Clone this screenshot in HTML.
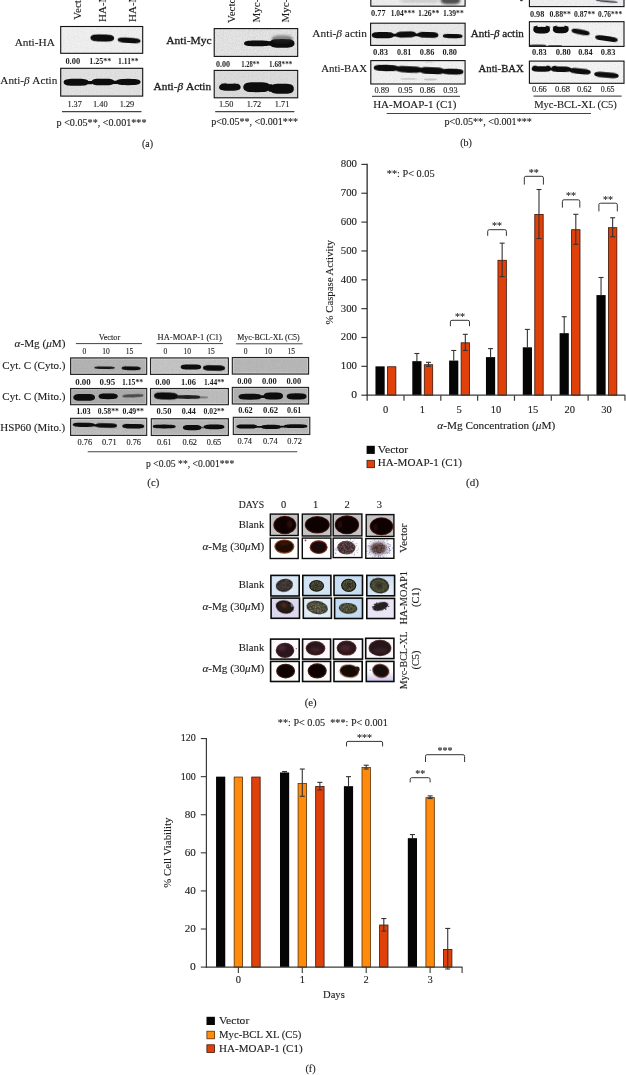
<!DOCTYPE html>
<html lang="en"><head><meta charset="utf-8"><title>Figure</title>
<style>
html,body{margin:0;padding:0;background:#fff;}
body{width:626px;height:1075px;overflow:hidden;}
svg{display:block;font-family:'Liberation Serif', 'DejaVu Serif', serif;}
text{white-space:pre;}
</style></head><body>
<svg width="626" height="1075" viewBox="0 0 626 1075">
<defs>
<filter id="bl" x="-20%" y="-60%" width="140%" height="220%"><feGaussianBlur stdDeviation="0.75"/></filter>
<filter id="bls" x="-20%" y="-80%" width="140%" height="260%"><feGaussianBlur stdDeviation="0.6"/></filter>
<filter id="bl2" x="-20%" y="-80%" width="140%" height="260%"><feGaussianBlur stdDeviation="1.3"/></filter>
<filter id="bl3" x="-30%" y="-100%" width="160%" height="300%"><feGaussianBlur stdDeviation="2.2"/></filter>
<filter id="nz" x="0" y="0" width="100%" height="100%"><feTurbulence type="fractalNoise" baseFrequency="0.85" numOctaves="2" seed="3" result="t"/><feColorMatrix type="matrix" values="0 0 0 0 0  0 0 0 0 0  0 0 0 0 0  0.9 0.5 0 0 -0.52"/></filter>
<filter id="nzw" x="0" y="0" width="100%" height="100%"><feTurbulence type="fractalNoise" baseFrequency="0.7" numOctaves="2" seed="11" result="t"/><feColorMatrix type="matrix" values="0 0 0 0 1  0 0 0 0 1  0 0 0 0 1  0.9 0.5 0 0 -0.55"/></filter>
<filter id="tx" x="-5%" y="-5%" width="110%" height="110%"><feTurbulence type="fractalNoise" baseFrequency="0.75" numOctaves="2" seed="5" result="n"/><feColorMatrix in="n" type="matrix" values="0 0 0 0 0  0 0 0 0 0  0 0 0 0 0  1.6 0 0 0 -0.55" result="a"/><feComposite in="a" in2="SourceGraphic" operator="in"/></filter>
<filter id="txw" x="-5%" y="-5%" width="110%" height="110%"><feTurbulence type="fractalNoise" baseFrequency="0.8" numOctaves="2" seed="9" result="n"/><feColorMatrix in="n" type="matrix" values="0 0 0 0 0.85  0 0 0 0 0.8  0 0 0 0 0.7  1.6 0 0 0 -0.62" result="a"/><feComposite in="a" in2="SourceGraphic" operator="in"/></filter>
<filter id="cb" x="-20%" y="-20%" width="140%" height="140%"><feGaussianBlur stdDeviation="0.6"/></filter>
<filter id="cb2" x="-30%" y="-30%" width="160%" height="160%"><feGaussianBlur stdDeviation="1.4"/></filter>
<clipPath id="c1"><rect x="60.70" y="26.50" width="82.00" height="26.80"/></clipPath>
<clipPath id="c2"><rect x="60.70" y="68.30" width="82.00" height="27.80"/></clipPath>
<clipPath id="c3"><rect x="214.20" y="28.60" width="83.50" height="27.80"/></clipPath>
<clipPath id="c4"><rect x="214.20" y="70.40" width="83.50" height="27.40"/></clipPath>
<clipPath id="c5"><rect x="370.80" y="-10.00" width="94.30" height="16.20"/></clipPath>
<clipPath id="c6"><rect x="370.60" y="23.20" width="94.50" height="22.20"/></clipPath>
<clipPath id="c7"><rect x="370.80" y="60.60" width="94.30" height="23.40"/></clipPath>
<clipPath id="c8"><rect x="529.40" y="-10.00" width="94.60" height="16.60"/></clipPath>
<clipPath id="c9"><rect x="529.40" y="21.70" width="94.60" height="24.70"/></clipPath>
<clipPath id="c10"><rect x="529.40" y="61.10" width="94.60" height="22.20"/></clipPath>
<clipPath id="c11"><rect x="70.60" y="357.90" width="76.10" height="16.50"/></clipPath>
<clipPath id="c12"><rect x="70.60" y="388.50" width="76.10" height="16.20"/></clipPath>
<clipPath id="c13"><rect x="70.60" y="418.30" width="76.10" height="17.10"/></clipPath>
<clipPath id="c14"><rect x="150.50" y="357.90" width="77.90" height="16.50"/></clipPath>
<clipPath id="c15"><rect x="150.50" y="388.50" width="77.90" height="16.20"/></clipPath>
<clipPath id="c16"><rect x="151.30" y="418.70" width="77.10" height="16.80"/></clipPath>
<clipPath id="c17"><rect x="232.30" y="357.50" width="76.30" height="16.60"/></clipPath>
<clipPath id="c18"><rect x="232.30" y="387.40" width="76.30" height="16.60"/></clipPath>
<clipPath id="c19"><rect x="233.30" y="417.30" width="76.50" height="17.20"/></clipPath>
<clipPath id="c20"><rect x="270.30" y="514.10" width="27.90" height="21.40"/></clipPath>
<clipPath id="c21"><rect x="302.30" y="514.10" width="28.60" height="21.90"/></clipPath>
<clipPath id="c22"><rect x="333.20" y="514.00" width="28.70" height="21.90"/></clipPath>
<clipPath id="c23"><rect x="366.20" y="514.60" width="27.70" height="21.80"/></clipPath>
<clipPath id="c24"><rect x="270.20" y="538.10" width="28.00" height="20.40"/></clipPath>
<clipPath id="c25"><rect x="302.30" y="538.10" width="28.60" height="20.40"/></clipPath>
<clipPath id="c26"><rect x="333.20" y="538.10" width="28.70" height="19.50"/></clipPath>
<clipPath id="c27"><rect x="365.80" y="538.60" width="28.10" height="19.70"/></clipPath>
<radialGradient id="g28" cx="50%" cy="50%" r="70%"><stop offset="0" stop-color="#e9f0fa"/><stop offset="1" stop-color="#d3e2f4"/></radialGradient>
<clipPath id="c29"><rect x="270.90" y="575.40" width="28.30" height="20.60"/></clipPath>
<radialGradient id="g30" cx="50%" cy="50%" r="70%"><stop offset="0" stop-color="#e0ebf8"/><stop offset="1" stop-color="#cadef2"/></radialGradient>
<clipPath id="c31"><rect x="302.80" y="575.40" width="28.10" height="20.20"/></clipPath>
<radialGradient id="g32" cx="50%" cy="50%" r="70%"><stop offset="0" stop-color="#d5e6f6"/><stop offset="1" stop-color="#c0d9f0"/></radialGradient>
<clipPath id="c33"><rect x="334.00" y="575.40" width="28.50" height="20.00"/></clipPath>
<radialGradient id="g34" cx="70%" cy="80%" r="90%"><stop offset="0" stop-color="#eaf1fa"/><stop offset="1" stop-color="#c6dbf1"/></radialGradient>
<clipPath id="c35"><rect x="366.80" y="575.40" width="27.80" height="20.40"/></clipPath>
<clipPath id="c36"><rect x="271.10" y="598.10" width="28.40" height="20.20"/></clipPath>
<radialGradient id="g37" cx="50%" cy="50%" r="70%"><stop offset="0" stop-color="#eef4fb"/><stop offset="1" stop-color="#dce8f4"/></radialGradient>
<clipPath id="c38"><rect x="303.30" y="598.10" width="28.10" height="20.20"/></clipPath>
<radialGradient id="g39" cx="50%" cy="50%" r="70%"><stop offset="0" stop-color="#d2e4f6"/><stop offset="1" stop-color="#bdd6ef"/></radialGradient>
<clipPath id="c40"><rect x="334.60" y="598.10" width="27.90" height="20.40"/></clipPath>
<clipPath id="c41"><rect x="366.80" y="598.40" width="27.80" height="20.10"/></clipPath>
<clipPath id="c42"><rect x="270.60" y="639.10" width="28.60" height="20.00"/></clipPath>
<clipPath id="c43"><rect x="302.60" y="639.10" width="28.00" height="20.00"/></clipPath>
<clipPath id="c44"><rect x="333.50" y="639.10" width="29.00" height="20.00"/></clipPath>
<clipPath id="c45"><rect x="365.70" y="638.30" width="28.20" height="20.30"/></clipPath>
<clipPath id="c46"><rect x="270.60" y="661.40" width="28.60" height="20.10"/></clipPath>
<clipPath id="c47"><rect x="302.60" y="661.40" width="28.00" height="20.10"/></clipPath>
<clipPath id="c48"><rect x="334.00" y="661.40" width="28.20" height="20.10"/></clipPath>
<linearGradient id="g49" x1="0" y1="0" x2="0" y2="1"><stop offset="0.5" stop-color="#fefefe"/><stop offset="1" stop-color="#c9c1e8"/></linearGradient>
<clipPath id="c50"><rect x="366.30" y="661.40" width="27.60" height="20.10"/></clipPath>
</defs>
<rect width="626" height="1075" fill="#ffffff"/>
<g opacity="0.999">
<text transform="translate(80.50,19.70) rotate(-90)" font-size="11" text-anchor="start" fill="#1c1c1c" stroke="#1c1c1c" stroke-width="0.12">Vector</text>
<text transform="translate(106.40,22.00) rotate(-90)" font-size="11" text-anchor="start" fill="#1c1c1c" stroke="#1c1c1c" stroke-width="0.12">HA-MOAP-1 (C1)</text>
<text transform="translate(136.00,22.00) rotate(-90)" font-size="11" text-anchor="start" fill="#1c1c1c" stroke="#1c1c1c" stroke-width="0.12">HA-MOAP-1 (C2)</text>
<rect x="60.70" y="26.50" width="82.00" height="26.80" fill="#f1f1f1"/>
<g clip-path="url(#c1)">

<rect x="60.70" y="26.50" width="82.00" height="26.80" filter="url(#nz)" opacity="0.1"/>
<polygon points="114.13,38.00 114.06,38.69 113.84,39.25 113.47,39.74 112.94,40.18 112.25,40.56 111.37,40.88 110.27,41.13 108.88,41.32 106.98,41.43 102.30,41.47 97.62,41.43 95.72,41.32 94.33,41.13 93.23,40.88 92.35,40.56 91.66,40.18 91.13,39.74 90.76,39.25 90.54,38.69 90.47,38.00 90.54,37.31 90.76,36.75 91.13,36.26 91.66,35.82 92.35,35.44 93.23,35.12 94.33,34.87 95.72,34.68 97.62,34.57 102.30,34.53 106.98,34.57 108.88,34.68 110.27,34.87 111.37,35.12 112.25,35.44 112.94,35.82 113.47,36.26 113.84,36.75 114.06,37.31" fill="#0a0a0a" filter="url(#bl)" transform="rotate(1.23 102.30 38.00)"/>
<polygon points="140.52,40.40 140.45,40.92 140.24,41.35 139.88,41.72 139.38,42.05 138.71,42.34 137.86,42.58 136.80,42.77 135.45,42.91 133.62,43.00 129.10,43.02 124.58,43.00 122.75,42.91 121.40,42.77 120.34,42.58 119.49,42.34 118.82,42.05 118.32,41.72 117.96,41.35 117.75,40.92 117.68,40.40 117.75,39.88 117.96,39.45 118.32,39.08 118.82,38.75 119.49,38.46 120.34,38.22 121.40,38.03 122.75,37.89 124.58,37.80 129.10,37.77 133.62,37.80 135.45,37.89 136.80,38.03 137.86,38.22 138.71,38.46 139.38,38.75 139.88,39.08 140.24,39.45 140.45,39.88" fill="#0a0a0a" filter="url(#bl)" transform="rotate(3.58 129.10 40.40)"/>
</g>
<rect x="60.70" y="26.50" width="82.00" height="26.80" fill="none" stroke="#111" stroke-width="1.1"/>
<text x="14.65" y="45.80" font-size="11" text-anchor="start" fill="#1c1c1c" stroke="#1c1c1c" stroke-width="0.12" textLength="40.20" lengthAdjust="spacingAndGlyphs">Anti-HA</text>
<text x="65.40" y="63.50" font-size="7.6" text-anchor="start" fill="#1c1c1c" font-weight="bold" textLength="14.80" lengthAdjust="spacingAndGlyphs">0.00</text>
<text x="89.30" y="63.50" font-size="7.6" text-anchor="start" fill="#1c1c1c" font-weight="bold" textLength="22.00" lengthAdjust="spacingAndGlyphs">1.25**</text>
<text x="118.10" y="63.50" font-size="7.6" text-anchor="start" fill="#1c1c1c" font-weight="bold" textLength="20.40" lengthAdjust="spacingAndGlyphs">1.11**</text>
<rect x="60.70" y="68.30" width="82.00" height="27.80" fill="#e3e3e3"/>
<g clip-path="url(#c2)">

<rect x="60.70" y="68.30" width="82.00" height="27.80" filter="url(#nz)" opacity="0.1"/>
<polygon points="88.65,82.30 88.57,82.99 88.34,83.55 87.94,84.04 87.39,84.48 86.66,84.86 85.73,85.18 84.57,85.43 83.10,85.62 81.09,85.73 76.15,85.77 71.21,85.73 69.20,85.62 67.73,85.43 66.57,85.18 65.64,84.86 64.91,84.48 64.36,84.04 63.96,83.55 63.73,82.99 63.66,82.30 63.73,81.61 63.96,81.05 64.36,80.56 64.91,80.12 65.64,79.74 66.57,79.42 67.73,79.17 69.20,78.98 71.21,78.87 76.15,78.83 81.09,78.87 83.10,78.98 84.57,79.17 85.73,79.42 86.66,79.74 87.39,80.12 87.94,80.56 88.34,81.05 88.57,81.61" fill="#0a0a0a" filter="url(#bl)" transform="rotate(0.00 76.15 82.30)"/>
<polygon points="94.08,82.60 94.05,82.91 93.98,83.17 93.85,83.39 93.67,83.59 93.43,83.77 93.13,83.91 92.75,84.02 92.27,84.11 91.61,84.16 90.00,84.17 88.39,84.16 87.73,84.11 87.25,84.02 86.87,83.91 86.57,83.77 86.33,83.59 86.15,83.39 86.02,83.17 85.95,82.91 85.92,82.60 85.95,82.29 86.02,82.03 86.15,81.81 86.33,81.61 86.57,81.43 86.87,81.29 87.25,81.18 87.73,81.09 88.39,81.04 90.00,81.02 91.61,81.04 92.27,81.09 92.75,81.18 93.13,81.29 93.43,81.43 93.67,81.61 93.85,81.81 93.98,82.03 94.05,82.29" fill="#0a0a0a" filter="url(#bls)" transform="rotate(0.00 90.00 82.60)"/>
<polygon points="114.12,82.00 114.05,82.67 113.84,83.21 113.49,83.69 112.99,84.12 112.33,84.49 111.49,84.79 110.44,85.04 109.12,85.22 107.31,85.32 102.85,85.36 98.39,85.32 96.58,85.22 95.26,85.04 94.21,84.79 93.37,84.49 92.71,84.12 92.21,83.69 91.86,83.21 91.65,82.67 91.58,82.00 91.65,81.33 91.86,80.79 92.21,80.31 92.71,79.88 93.37,79.51 94.21,79.21 95.26,78.96 96.58,78.78 98.39,78.68 102.85,78.64 107.31,78.68 109.12,78.78 110.44,78.96 111.49,79.21 112.33,79.51 112.99,79.88 113.49,80.31 113.84,80.79 114.05,81.33" fill="#0a0a0a" filter="url(#bl)" transform="rotate(0.00 102.85 82.00)"/>
<polygon points="118.06,82.40 118.04,82.73 117.98,83.01 117.89,83.25 117.75,83.46 117.57,83.64 117.35,83.80 117.06,83.92 116.70,84.01 116.21,84.06 115.00,84.08 113.79,84.06 113.30,84.01 112.94,83.92 112.65,83.80 112.43,83.64 112.25,83.46 112.11,83.25 112.02,83.01 111.96,82.73 111.94,82.40 111.96,82.07 112.02,81.79 112.11,81.55 112.25,81.34 112.43,81.16 112.65,81.00 112.94,80.88 113.30,80.79 113.79,80.74 115.00,80.72 116.21,80.74 116.70,80.79 117.06,80.88 117.35,81.00 117.57,81.16 117.75,81.34 117.89,81.55 117.98,81.79 118.04,82.07" fill="#0a0a0a" filter="url(#bls)" transform="rotate(0.00 115.00 82.40)"/>
<polygon points="140.44,82.00 140.36,82.63 140.14,83.13 139.76,83.59 139.21,83.98 138.50,84.33 137.59,84.62 136.46,84.85 135.03,85.02 133.07,85.12 128.25,85.15 123.43,85.12 121.47,85.02 120.04,84.85 118.91,84.62 118.00,84.33 117.29,83.98 116.74,83.59 116.36,83.13 116.14,82.63 116.06,82.00 116.14,81.37 116.36,80.87 116.74,80.41 117.29,80.02 118.00,79.67 118.91,79.38 120.04,79.15 121.47,78.98 123.43,78.88 128.25,78.85 133.07,78.88 135.03,78.98 136.46,79.15 137.59,79.38 138.50,79.67 139.21,80.02 139.76,80.41 140.14,80.87 140.36,81.37" fill="#0a0a0a" filter="url(#bl)" transform="rotate(0.00 128.25 82.00)"/>
</g>
<rect x="60.70" y="68.30" width="82.00" height="27.80" fill="none" stroke="#111" stroke-width="1.1"/>
<text x="0.35" y="83.80" font-size="11" text-anchor="start" fill="#1c1c1c" stroke="#1c1c1c" stroke-width="0.12" textLength="56.90" lengthAdjust="spacingAndGlyphs">Anti-<tspan font-style="italic">β</tspan> Actin</text>
<text x="67.40" y="106.80" font-size="7.6" text-anchor="start" fill="#1c1c1c" stroke="#1c1c1c" stroke-width="0.12" textLength="14.50" lengthAdjust="spacingAndGlyphs">1.37</text>
<text x="92.90" y="106.80" font-size="7.6" text-anchor="start" fill="#1c1c1c" stroke="#1c1c1c" stroke-width="0.12" textLength="14.70" lengthAdjust="spacingAndGlyphs">1.40</text>
<text x="119.70" y="106.80" font-size="7.6" text-anchor="start" fill="#1c1c1c" stroke="#1c1c1c" stroke-width="0.12" textLength="14.50" lengthAdjust="spacingAndGlyphs">1.29</text>
<line x1="62.00" y1="111.70" x2="141.50" y2="111.70" stroke="#444" stroke-width="1.2"/>
<text x="56.55" y="126.20" font-size="10.5" text-anchor="start" fill="#1c1c1c" stroke="#1c1c1c" stroke-width="0.12" textLength="89.90" lengthAdjust="spacingAndGlyphs">p &lt;0.05**, &lt;0.001***</text>
<text x="147.50" y="146.60" font-size="10" text-anchor="middle" fill="#1c1c1c" stroke="#1c1c1c" stroke-width="0.12">(a)</text>
<text transform="translate(235.30,23.00) rotate(-90)" font-size="11" text-anchor="start" fill="#1c1c1c" stroke="#1c1c1c" stroke-width="0.12">Vector</text>
<text transform="translate(260.40,22.50) rotate(-90)" font-size="11" text-anchor="start" fill="#1c1c1c" stroke="#1c1c1c" stroke-width="0.12">Myc-BCL-XL (C1)</text>
<text transform="translate(288.60,22.50) rotate(-90)" font-size="11" text-anchor="start" fill="#1c1c1c" stroke="#1c1c1c" stroke-width="0.12">Myc-BCL-XL (C5)</text>
<rect x="214.20" y="28.60" width="83.50" height="27.80" fill="#e7e7e7"/>
<g clip-path="url(#c3)">

<rect x="214.20" y="28.60" width="83.50" height="27.80" filter="url(#nz)" opacity="0.16"/>
<polygon points="270.86,43.40 270.78,43.96 270.53,44.42 270.11,44.83 269.51,45.19 268.73,45.50 267.73,45.76 266.49,45.96 264.91,46.11 262.76,46.20 257.45,46.23 252.14,46.20 249.99,46.11 248.41,45.96 247.17,45.76 246.17,45.50 245.39,45.19 244.79,44.83 244.37,44.42 244.12,43.96 244.04,43.40 244.12,42.84 244.37,42.38 244.79,41.97 245.39,41.61 246.17,41.30 247.17,41.04 248.41,40.84 249.99,40.69 252.14,40.60 257.45,40.56 262.76,40.60 264.91,40.69 266.49,40.84 267.73,41.04 268.73,41.30 269.51,41.61 270.11,41.97 270.53,42.38 270.78,42.84" fill="#0a0a0a" filter="url(#bl)" transform="rotate(0.00 257.45 43.40)"/>
<polygon points="273.05,43.40 273.03,43.82 272.99,44.16 272.91,44.46 272.79,44.72 272.64,44.95 272.46,45.15 272.22,45.30 271.92,45.41 271.51,45.48 270.50,45.50 269.49,45.48 269.08,45.41 268.78,45.30 268.54,45.15 268.36,44.95 268.21,44.72 268.09,44.46 268.01,44.16 267.97,43.82 267.95,43.40 267.97,42.98 268.01,42.64 268.09,42.34 268.21,42.08 268.36,41.85 268.54,41.65 268.78,41.50 269.08,41.39 269.49,41.32 270.50,41.30 271.51,41.32 271.92,41.39 272.22,41.50 272.46,41.65 272.64,41.85 272.79,42.08 272.91,42.34 272.99,42.64 273.03,42.98" fill="#0a0a0a" filter="url(#bl)" transform="rotate(0.00 270.50 43.40)"/>
<polygon points="294.44,43.40 294.37,44.26 294.14,44.95 293.75,45.57 293.20,46.11 292.47,46.58 291.55,46.98 290.40,47.29 288.94,47.52 286.95,47.66 282.05,47.70 277.15,47.66 275.16,47.52 273.70,47.29 272.55,46.98 271.63,46.58 270.90,46.11 270.35,45.57 269.96,44.95 269.73,44.26 269.66,43.40 269.73,42.54 269.96,41.85 270.35,41.23 270.90,40.69 271.63,40.22 272.55,39.82 273.70,39.51 275.16,39.28 277.15,39.14 282.05,39.09 286.95,39.14 288.94,39.28 290.40,39.51 291.55,39.82 292.47,40.22 293.20,40.69 293.75,41.23 294.14,41.85 294.37,42.54" fill="#0a0a0a" filter="url(#bl)" transform="rotate(0.00 282.05 43.40)"/>
<polygon points="292.70,39.20 292.64,39.93 292.45,40.52 292.12,41.05 291.65,41.52 291.04,41.92 290.27,42.26 289.29,42.52 288.06,42.72 286.39,42.84 282.25,42.88 278.11,42.84 276.44,42.72 275.21,42.52 274.23,42.26 273.46,41.92 272.85,41.52 272.38,41.05 272.05,40.52 271.86,39.93 271.80,39.20 271.86,38.47 272.05,37.88 272.38,37.35 272.85,36.88 273.46,36.48 274.23,36.14 275.21,35.88 276.44,35.68 278.11,35.56 282.25,35.53 286.39,35.56 288.06,35.68 289.29,35.88 290.27,36.14 291.04,36.48 291.65,36.88 292.12,37.35 292.45,37.88 292.64,38.47" fill="rgba(40,40,40,0.5)" filter="url(#bl2)" transform="rotate(0.00 282.25 39.20)"/>
</g>
<rect x="214.20" y="28.60" width="83.50" height="27.80" fill="none" stroke="#111" stroke-width="1.1"/>
<text x="166.35" y="43.60" font-size="11" text-anchor="start" fill="#1c1c1c" stroke="#1c1c1c" stroke-width="0.32" textLength="45.20" lengthAdjust="spacingAndGlyphs">Anti-Myc</text>
<text x="215.90" y="66.60" font-size="7.6" text-anchor="start" fill="#1c1c1c" font-weight="bold" textLength="14.10" lengthAdjust="spacingAndGlyphs">0.00</text>
<text x="241.30" y="66.60" font-size="7.6" text-anchor="start" fill="#1c1c1c" font-weight="bold" textLength="18.20" lengthAdjust="spacingAndGlyphs">1.28**</text>
<text x="269.10" y="66.60" font-size="7.6" text-anchor="start" fill="#1c1c1c" font-weight="bold" textLength="23.20" lengthAdjust="spacingAndGlyphs">1.68***</text>
<rect x="214.20" y="70.40" width="83.50" height="27.40" fill="#dcdcdc"/>
<g clip-path="url(#c4)">

<rect x="214.20" y="70.40" width="83.50" height="27.40" filter="url(#nz)" opacity="0.1"/>
<rect x="214.20" y="70.40" width="83.50" height="27.40" filter="url(#nzw)" opacity="0.25"/>
<polygon points="240.61,87.20 240.54,87.89 240.34,88.45 240.01,88.94 239.53,89.38 238.90,89.76 238.10,90.08 237.10,90.33 235.83,90.52 234.11,90.63 229.85,90.67 225.59,90.63 223.87,90.52 222.60,90.33 221.60,90.08 220.80,89.76 220.17,89.38 219.69,88.94 219.36,88.45 219.16,87.89 219.09,87.20 219.16,86.51 219.36,85.95 219.69,85.46 220.17,85.02 220.80,84.64 221.60,84.32 222.60,84.07 223.87,83.88 225.59,83.77 229.85,83.73 234.11,83.77 235.83,83.88 237.10,84.07 238.10,84.32 238.90,84.64 239.53,85.02 240.01,85.46 240.34,85.95 240.54,86.51" fill="#0a0a0a" filter="url(#bl)" transform="rotate(0.00 229.85 87.20)"/>
<polygon points="227.06,85.60 227.04,86.02 226.98,86.36 226.89,86.66 226.75,86.92 226.57,87.15 226.35,87.35 226.06,87.50 225.70,87.61 225.21,87.68 224.00,87.70 222.79,87.68 222.30,87.61 221.94,87.50 221.65,87.35 221.43,87.15 221.25,86.92 221.11,86.66 221.02,86.36 220.96,86.02 220.94,85.60 220.96,85.18 221.02,84.84 221.11,84.54 221.25,84.28 221.43,84.05 221.65,83.85 221.94,83.70 222.30,83.59 222.79,83.52 224.00,83.50 225.21,83.52 225.70,83.59 226.06,83.70 226.35,83.85 226.57,84.05 226.75,84.28 226.89,84.54 226.98,84.84 227.04,85.18" fill="#0a0a0a" filter="url(#bl)" transform="rotate(-9.46 224.00 85.60)"/>
<polygon points="239.56,85.80 239.54,86.22 239.48,86.56 239.38,86.86 239.23,87.12 239.04,87.35 238.79,87.55 238.48,87.70 238.09,87.81 237.56,87.88 236.25,87.90 234.94,87.88 234.41,87.81 234.02,87.70 233.71,87.55 233.46,87.35 233.27,87.12 233.12,86.86 233.02,86.56 232.96,86.22 232.94,85.80 232.96,85.38 233.02,85.04 233.12,84.74 233.27,84.48 233.46,84.25 233.71,84.05 234.02,83.90 234.41,83.79 234.94,83.72 236.25,83.70 237.56,83.72 238.09,83.79 238.48,83.90 238.79,84.05 239.04,84.25 239.23,84.48 239.38,84.74 239.48,85.04 239.54,85.38" fill="#0a0a0a" filter="url(#bl)" transform="rotate(8.75 236.25 85.80)"/>
<polygon points="270.26,87.20 270.18,88.18 269.93,88.98 269.51,89.68 268.91,90.31 268.12,90.85 267.12,91.30 265.87,91.66 264.28,91.92 262.13,92.08 256.80,92.14 251.47,92.08 249.32,91.92 247.73,91.66 246.48,91.30 245.48,90.85 244.69,90.31 244.09,89.68 243.67,88.98 243.42,88.18 243.34,87.20 243.42,86.22 243.67,85.42 244.09,84.72 244.69,84.09 245.48,83.55 246.48,83.10 247.73,82.74 249.32,82.48 251.47,82.32 256.80,82.27 262.13,82.32 264.28,82.48 265.87,82.74 267.12,83.10 268.12,83.55 268.91,84.09 269.51,84.72 269.93,85.42 270.18,86.22" fill="#0a0a0a" filter="url(#bl)" transform="rotate(0.00 256.80 87.20)"/>
<polygon points="273.05,88.00 273.03,88.73 272.99,89.32 272.91,89.85 272.79,90.32 272.64,90.72 272.46,91.06 272.22,91.32 271.92,91.52 271.51,91.64 270.50,91.67 269.49,91.64 269.08,91.52 268.78,91.32 268.54,91.06 268.36,90.72 268.21,90.32 268.09,89.85 268.01,89.32 267.97,88.73 267.95,88.00 267.97,87.27 268.01,86.68 268.09,86.15 268.21,85.68 268.36,85.28 268.54,84.94 268.78,84.68 269.08,84.48 269.49,84.36 270.50,84.33 271.51,84.36 271.92,84.48 272.22,84.68 272.46,84.94 272.64,85.28 272.79,85.68 272.91,86.15 272.99,86.68 273.03,87.27" fill="#0a0a0a" filter="url(#bl)" transform="rotate(0.00 270.50 88.00)"/>
<polygon points="293.83,88.80 293.76,89.80 293.54,90.62 293.17,91.34 292.64,91.98 291.95,92.53 291.07,92.99 289.97,93.36 288.58,93.62 286.68,93.79 282.00,93.84 277.32,93.79 275.42,93.62 274.03,93.36 272.93,92.99 272.05,92.53 271.36,91.98 270.83,91.34 270.46,90.62 270.24,89.80 270.17,88.80 270.24,87.80 270.46,86.98 270.83,86.26 271.36,85.62 272.05,85.07 272.93,84.61 274.03,84.24 275.42,83.98 277.32,83.81 282.00,83.76 286.68,83.81 288.58,83.98 289.97,84.24 291.07,84.61 291.95,85.07 292.64,85.62 293.17,86.26 293.54,86.98 293.76,87.80" fill="#0a0a0a" filter="url(#bl)" transform="rotate(0.00 282.00 88.80)"/>
</g>
<rect x="214.20" y="70.40" width="83.50" height="27.40" fill="none" stroke="#111" stroke-width="1.1"/>
<text x="153.55" y="89.60" font-size="11" text-anchor="start" fill="#1c1c1c" stroke="#1c1c1c" stroke-width="0.32" textLength="57.60" lengthAdjust="spacingAndGlyphs">Anti-<tspan font-style="italic">β</tspan> Actin</text>
<text x="218.90" y="107.00" font-size="7.6" text-anchor="start" fill="#1c1c1c" stroke="#1c1c1c" stroke-width="0.12" textLength="14.50" lengthAdjust="spacingAndGlyphs">1.50</text>
<text x="246.70" y="107.00" font-size="7.6" text-anchor="start" fill="#1c1c1c" stroke="#1c1c1c" stroke-width="0.12" textLength="14.50" lengthAdjust="spacingAndGlyphs">1.72</text>
<text x="274.80" y="107.00" font-size="7.6" text-anchor="start" fill="#1c1c1c" stroke="#1c1c1c" stroke-width="0.12" textLength="14.50" lengthAdjust="spacingAndGlyphs">1.71</text>
<line x1="215.20" y1="111.70" x2="294.40" y2="111.70" stroke="#444" stroke-width="1.2"/>
<text x="211.15" y="125.00" font-size="10.5" text-anchor="start" fill="#1c1c1c" stroke="#1c1c1c" stroke-width="0.12" textLength="86.80" lengthAdjust="spacingAndGlyphs">p&lt;0.05**, &lt;0.001***</text>
<rect x="370.80" y="-10.00" width="94.30" height="16.20" fill="#efefef"/>
<g clip-path="url(#c5)">

<rect x="370.80" y="-10.00" width="94.30" height="16.20" filter="url(#nz)" opacity="0.1"/>
<polygon points="460.19,0.50 460.13,1.23 459.95,1.82 459.65,2.35 459.22,2.82 458.65,3.22 457.93,3.56 457.03,3.82 455.89,4.02 454.33,4.14 450.50,4.18 446.67,4.14 445.11,4.02 443.97,3.82 443.07,3.56 442.35,3.22 441.78,2.82 441.35,2.35 441.05,1.82 440.87,1.23 440.81,0.50 440.87,-0.23 441.05,-0.82 441.35,-1.35 441.78,-1.82 442.35,-2.22 443.07,-2.56 443.97,-2.82 445.11,-3.02 446.67,-3.14 450.50,-3.18 454.33,-3.14 455.89,-3.02 457.03,-2.82 457.93,-2.56 458.65,-2.22 459.22,-1.82 459.65,-1.35 459.95,-0.82 460.13,-0.23" fill="rgba(30,30,30,0.75)" filter="url(#bl2)" transform="rotate(0.00 450.50 0.50)"/>
<polygon points="440.40,1.00 440.27,1.42 439.89,1.76 439.26,2.06 438.35,2.32 437.15,2.55 435.64,2.75 433.75,2.90 431.34,3.01 428.07,3.08 420.00,3.10 411.93,3.08 408.66,3.01 406.25,2.90 404.36,2.75 402.85,2.55 401.65,2.32 400.74,2.06 400.11,1.76 399.73,1.42 399.60,1.00 399.73,0.58 400.11,0.24 400.74,-0.06 401.65,-0.32 402.85,-0.55 404.36,-0.75 406.25,-0.90 408.66,-1.01 411.93,-1.08 420.00,-1.10 428.07,-1.08 431.34,-1.01 433.75,-0.90 435.64,-0.75 437.15,-0.55 438.35,-0.32 439.26,-0.06 439.89,0.24 440.27,0.58" fill="rgba(120,120,120,0.25)" filter="url(#bl2)" transform="rotate(0.00 420.00 1.00)"/>
</g>
<rect x="370.80" y="-10.00" width="94.30" height="16.20" fill="none" stroke="#111" stroke-width="1.1"/>
<text x="371.10" y="16.20" font-size="7.6" text-anchor="start" fill="#1c1c1c" font-weight="bold" textLength="14.60" lengthAdjust="spacingAndGlyphs">0.77</text>
<text x="390.70" y="16.20" font-size="7.6" text-anchor="start" fill="#1c1c1c" font-weight="bold" textLength="24.40" lengthAdjust="spacingAndGlyphs">1.04***</text>
<text x="418.10" y="16.20" font-size="7.6" text-anchor="start" fill="#1c1c1c" font-weight="bold" textLength="21.30" lengthAdjust="spacingAndGlyphs">1.26**</text>
<text x="442.90" y="16.20" font-size="7.6" text-anchor="start" fill="#1c1c1c" font-weight="bold" textLength="20.80" lengthAdjust="spacingAndGlyphs">1.39**</text>
<rect x="370.60" y="23.20" width="94.50" height="22.20" fill="#ebebeb"/>
<g clip-path="url(#c6)">

<rect x="370.60" y="23.20" width="94.50" height="22.20" filter="url(#nz)" opacity="0.1"/>
<polygon points="393.82,35.20 393.75,35.83 393.54,36.33 393.20,36.79 392.71,37.18 392.06,37.53 391.25,37.82 390.22,38.05 388.92,38.22 387.16,38.32 382.80,38.35 378.44,38.32 376.68,38.22 375.38,38.05 374.35,37.82 373.54,37.53 372.89,37.18 372.40,36.79 372.06,36.33 371.85,35.83 371.78,35.20 371.85,34.57 372.06,34.07 372.40,33.61 372.89,33.22 373.54,32.87 374.35,32.58 375.38,32.35 376.68,32.18 378.44,32.08 382.80,32.05 387.16,32.08 388.92,32.18 390.22,32.35 391.25,32.58 392.06,32.87 392.71,33.22 393.20,33.61 393.54,34.07 393.75,34.57" fill="#0a0a0a" filter="url(#bl)" transform="rotate(0.00 382.80 35.20)"/>
<polygon points="398.07,35.20 398.05,35.47 397.98,35.69 397.87,35.89 397.71,36.06 397.50,36.21 397.24,36.34 396.91,36.43 396.48,36.51 395.91,36.55 394.50,36.57 393.09,36.55 392.52,36.51 392.09,36.43 391.76,36.34 391.50,36.21 391.29,36.06 391.13,35.89 391.02,35.69 390.95,35.47 390.93,35.20 390.95,34.93 391.02,34.71 391.13,34.51 391.29,34.34 391.50,34.19 391.76,34.06 392.09,33.97 392.52,33.89 393.09,33.85 394.50,33.84 395.91,33.85 396.48,33.89 396.91,33.97 397.24,34.06 397.50,34.19 397.71,34.34 397.87,34.51 397.98,34.71 398.05,34.93" fill="#0a0a0a" filter="url(#bls)" transform="rotate(0.00 394.50 35.20)"/>
<polygon points="416.00,34.50 415.94,35.11 415.75,35.60 415.43,36.03 414.98,36.42 414.39,36.75 413.64,37.03 412.70,37.25 411.51,37.41 409.89,37.51 405.90,37.55 401.91,37.51 400.29,37.41 399.10,37.25 398.16,37.03 397.41,36.75 396.82,36.42 396.37,36.03 396.05,35.60 395.86,35.11 395.80,34.50 395.86,33.89 396.05,33.40 396.37,32.97 396.82,32.58 397.41,32.25 398.16,31.97 399.10,31.75 400.29,31.59 401.91,31.49 405.90,31.45 409.89,31.49 411.51,31.59 412.70,31.75 413.64,31.97 414.39,32.25 414.98,32.58 415.43,32.97 415.75,33.40 415.94,33.89" fill="#0a0a0a" filter="url(#bl)" transform="rotate(-1.74 405.90 34.50)"/>
<polygon points="420.06,34.80 420.04,35.07 419.98,35.29 419.89,35.49 419.75,35.66 419.57,35.81 419.35,35.94 419.06,36.03 418.70,36.11 418.21,36.15 417.00,36.16 415.79,36.15 415.30,36.11 414.94,36.03 414.65,35.94 414.43,35.81 414.25,35.66 414.11,35.49 414.02,35.29 413.96,35.07 413.94,34.80 413.96,34.53 414.02,34.31 414.11,34.11 414.25,33.94 414.43,33.79 414.65,33.66 414.94,33.57 415.30,33.49 415.79,33.45 417.00,33.43 418.21,33.45 418.70,33.49 419.06,33.57 419.35,33.66 419.57,33.79 419.75,33.94 419.89,34.11 419.98,34.31 420.04,34.53" fill="#0a0a0a" filter="url(#bls)" transform="rotate(0.00 417.00 34.80)"/>
<polygon points="438.40,34.90 438.34,35.49 438.15,35.96 437.82,36.38 437.36,36.75 436.75,37.08 435.98,37.35 435.01,37.56 433.78,37.71 432.11,37.81 428.00,37.84 423.89,37.81 422.22,37.71 420.99,37.56 420.02,37.35 419.25,37.08 418.64,36.75 418.18,36.38 417.85,35.96 417.66,35.49 417.60,34.90 417.66,34.31 417.85,33.84 418.18,33.42 418.64,33.05 419.25,32.72 420.02,32.45 420.99,32.24 422.22,32.09 423.89,31.99 428.00,31.96 432.11,31.99 433.78,32.09 435.01,32.24 435.98,32.45 436.75,32.72 437.36,33.05 437.82,33.42 438.15,33.84 438.34,34.31" fill="#0a0a0a" filter="url(#bl)" transform="rotate(1.68 428.00 34.90)"/>
<polygon points="462.59,36.10 462.53,36.52 462.35,36.86 462.04,37.16 461.60,37.42 461.02,37.65 460.29,37.85 459.37,38.00 458.20,38.11 456.61,38.18 452.70,38.20 448.79,38.18 447.20,38.11 446.03,38.00 445.11,37.85 444.38,37.65 443.80,37.42 443.36,37.16 443.05,36.86 442.87,36.52 442.81,36.10 442.87,35.68 443.05,35.34 443.36,35.04 443.80,34.78 444.38,34.55 445.11,34.35 446.03,34.20 447.20,34.09 448.79,34.02 452.70,34.00 456.61,34.02 458.20,34.09 459.37,34.20 460.29,34.35 461.02,34.55 461.60,34.78 462.04,35.04 462.35,35.34 462.53,35.68" fill="#0a0a0a" filter="url(#bl)" transform="rotate(1.18 452.70 36.10)"/>
</g>
<rect x="370.60" y="23.20" width="94.50" height="22.20" fill="none" stroke="#111" stroke-width="1.1"/>
<text x="312.35" y="36.60" font-size="11" text-anchor="start" fill="#1c1c1c" stroke="#1c1c1c" stroke-width="0.12" textLength="54.60" lengthAdjust="spacingAndGlyphs">Anti-<tspan font-style="italic">β</tspan> actin</text>
<text x="373.10" y="55.30" font-size="7.6" text-anchor="start" fill="#1c1c1c" font-weight="bold" textLength="15.10" lengthAdjust="spacingAndGlyphs">0.83</text>
<text x="397.10" y="55.30" font-size="7.6" text-anchor="start" fill="#1c1c1c" font-weight="bold" textLength="14.10" lengthAdjust="spacingAndGlyphs">0.81</text>
<text x="419.80" y="55.30" font-size="7.6" text-anchor="start" fill="#1c1c1c" font-weight="bold" textLength="14.60" lengthAdjust="spacingAndGlyphs">0.86</text>
<text x="442.40" y="55.30" font-size="7.6" text-anchor="start" fill="#1c1c1c" font-weight="bold" textLength="14.60" lengthAdjust="spacingAndGlyphs">0.80</text>
<rect x="370.80" y="60.60" width="94.30" height="23.40" fill="#f3f3f3"/>
<g clip-path="url(#c7)">

<rect x="370.80" y="60.60" width="94.30" height="23.40" filter="url(#nz)" opacity="0.1"/>
<polygon points="398.75,68.00 398.67,68.63 398.44,69.13 398.04,69.59 397.49,69.98 396.76,70.33 395.83,70.62 394.67,70.85 393.20,71.02 391.19,71.12 386.25,71.15 381.31,71.12 379.30,71.02 377.83,70.85 376.67,70.62 375.74,70.33 375.01,69.98 374.46,69.59 374.06,69.13 373.83,68.63 373.75,68.00 373.83,67.37 374.06,66.87 374.46,66.41 375.01,66.02 375.74,65.67 376.67,65.38 377.83,65.15 379.30,64.98 381.31,64.88 386.25,64.85 391.19,64.88 393.20,64.98 394.67,65.15 395.83,65.38 396.76,65.67 397.49,66.02 398.04,66.41 398.44,66.87 398.67,67.37" fill="#0a0a0a" filter="url(#bl)" transform="rotate(1.40 386.25 68.00)"/>
<polygon points="422.26,69.40 422.18,70.05 421.93,70.57 421.52,71.04 420.93,71.45 420.15,71.81 419.17,72.11 417.93,72.34 416.37,72.52 414.24,72.62 409.00,72.66 403.76,72.62 401.63,72.52 400.07,72.34 398.83,72.11 397.85,71.81 397.07,71.45 396.48,71.04 396.07,70.57 395.82,70.05 395.74,69.40 395.82,68.75 396.07,68.23 396.48,67.76 397.07,67.35 397.85,66.99 398.83,66.69 400.07,66.46 401.63,66.28 403.76,66.18 409.00,66.15 414.24,66.18 416.37,66.28 417.93,66.46 419.17,66.69 420.15,66.99 420.93,67.35 421.52,67.76 421.93,68.23 422.18,68.75" fill="#0a0a0a" filter="url(#bl)" transform="rotate(2.64 409.00 69.40)"/>
<polygon points="444.24,70.60 444.16,71.29 443.94,71.85 443.55,72.34 443.01,72.78 442.29,73.16 441.38,73.48 440.25,73.73 438.80,73.92 436.84,74.03 432.00,74.06 427.16,74.03 425.20,73.92 423.75,73.73 422.62,73.48 421.71,73.16 420.99,72.78 420.45,72.34 420.06,71.85 419.84,71.29 419.76,70.60 419.84,69.91 420.06,69.35 420.45,68.86 420.99,68.42 421.71,68.04 422.62,67.72 423.75,67.47 425.20,67.28 427.16,67.17 432.00,67.13 436.84,67.17 438.80,67.28 440.25,67.47 441.38,67.72 442.29,68.04 443.01,68.42 443.55,68.86 443.94,69.35 444.16,69.91" fill="#0a0a0a" filter="url(#bl)" transform="rotate(2.39 432.00 70.60)"/>
<polygon points="463.41,71.60 463.35,72.16 463.14,72.62 462.81,73.03 462.32,73.39 461.69,73.70 460.89,73.96 459.88,74.16 458.61,74.31 456.88,74.40 452.60,74.43 448.32,74.40 446.59,74.31 445.32,74.16 444.31,73.96 443.51,73.70 442.88,73.39 442.39,73.03 442.06,72.62 441.85,72.16 441.79,71.60 441.85,71.04 442.06,70.58 442.39,70.17 442.88,69.81 443.51,69.50 444.31,69.24 445.32,69.04 446.59,68.89 448.32,68.80 452.60,68.77 456.88,68.80 458.61,68.89 459.88,69.04 460.89,69.24 461.69,69.50 462.32,69.81 462.81,70.17 463.14,70.58 463.35,71.04" fill="#0a0a0a" filter="url(#bl)" transform="rotate(1.62 452.60 71.60)"/>
<polygon points="417.17,78.90 417.12,79.07 416.96,79.20 416.68,79.32 416.30,79.43 415.79,79.52 415.15,79.60 414.34,79.66 413.32,79.70 411.93,79.73 408.50,79.74 405.07,79.73 403.68,79.70 402.66,79.66 401.85,79.60 401.21,79.52 400.70,79.43 400.32,79.32 400.04,79.20 399.88,79.07 399.83,78.90 399.88,78.73 400.04,78.60 400.32,78.48 400.70,78.37 401.21,78.28 401.85,78.20 402.66,78.14 403.68,78.10 405.07,78.07 408.50,78.06 411.93,78.07 413.32,78.10 414.34,78.14 415.15,78.20 415.79,78.28 416.30,78.37 416.68,78.48 416.96,78.60 417.12,78.73" fill="rgba(90,90,90,0.22)" filter="url(#bl)" transform="rotate(0.00 408.50 78.90)"/>
<polygon points="437.13,79.50 437.09,79.69 436.97,79.84 436.76,79.98 436.46,80.10 436.08,80.20 435.58,80.29 434.97,80.35 434.19,80.40 433.12,80.43 430.50,80.44 427.88,80.43 426.81,80.40 426.03,80.35 425.42,80.29 424.92,80.20 424.54,80.10 424.24,79.98 424.03,79.84 423.91,79.69 423.87,79.50 423.91,79.31 424.03,79.16 424.24,79.02 424.54,78.90 424.92,78.80 425.42,78.71 426.03,78.65 426.81,78.60 427.88,78.57 430.50,78.56 433.12,78.57 434.19,78.60 434.97,78.65 435.58,78.71 436.08,78.80 436.46,78.90 436.76,79.02 436.97,79.16 437.09,79.31" fill="rgba(90,90,90,0.28)" filter="url(#bl)" transform="rotate(0.00 430.50 79.50)"/>
<polygon points="433.08,62.20 433.05,62.33 432.98,62.43 432.85,62.52 432.67,62.60 432.43,62.67 432.13,62.72 431.75,62.77 431.27,62.80 430.61,62.82 429.00,62.83 427.39,62.82 426.73,62.80 426.25,62.77 425.87,62.72 425.57,62.67 425.33,62.60 425.15,62.52 425.02,62.43 424.95,62.33 424.92,62.20 424.95,62.07 425.02,61.97 425.15,61.88 425.33,61.80 425.57,61.73 425.87,61.68 426.25,61.63 426.73,61.60 427.39,61.58 429.00,61.57 430.61,61.58 431.27,61.60 431.75,61.63 432.13,61.68 432.43,61.73 432.67,61.80 432.85,61.88 432.98,61.97 433.05,62.07" fill="rgba(90,90,90,0.18)" filter="url(#bl)" transform="rotate(0.00 429.00 62.20)"/>
</g>
<rect x="370.80" y="60.60" width="94.30" height="23.40" fill="none" stroke="#111" stroke-width="1.1"/>
<text x="321.25" y="71.60" font-size="11" text-anchor="start" fill="#1c1c1c" stroke="#1c1c1c" stroke-width="0.12" textLength="45.70" lengthAdjust="spacingAndGlyphs">Anti-BAX</text>
<text x="374.40" y="92.50" font-size="7.6" text-anchor="start" fill="#1c1c1c" stroke="#1c1c1c" stroke-width="0.12" textLength="14.70" lengthAdjust="spacingAndGlyphs">0.89</text>
<text x="397.90" y="92.50" font-size="7.6" text-anchor="start" fill="#1c1c1c" stroke="#1c1c1c" stroke-width="0.12" textLength="14.70" lengthAdjust="spacingAndGlyphs">0.95</text>
<text x="419.80" y="92.50" font-size="7.6" text-anchor="start" fill="#1c1c1c" stroke="#1c1c1c" stroke-width="0.12" textLength="15.40" lengthAdjust="spacingAndGlyphs">0.86</text>
<text x="443.20" y="92.50" font-size="7.6" text-anchor="start" fill="#1c1c1c" stroke="#1c1c1c" stroke-width="0.12" textLength="14.30" lengthAdjust="spacingAndGlyphs">0.93</text>
<line x1="372.00" y1="96.30" x2="460.00" y2="96.30" stroke="#555" stroke-width="1.3"/>
<text x="373.15" y="107.50" font-size="10.5" text-anchor="start" fill="#1c1c1c" stroke="#1c1c1c" stroke-width="0.12" textLength="83.20" lengthAdjust="spacingAndGlyphs">HA-MOAP-1 (C1)</text>
<text x="485.75" y="-0.90" font-size="11" text-anchor="start" fill="#1c1c1c" stroke="#1c1c1c" stroke-width="0.32" textLength="45.50" lengthAdjust="spacingAndGlyphs">Anti-Myc</text>
<rect x="529.40" y="-10.00" width="94.60" height="16.60" fill="#f1f1f1"/>
<g clip-path="url(#c8)">

<rect x="529.40" y="-10.00" width="94.60" height="16.60" filter="url(#nz)" opacity="0.1"/>
<polygon points="617.72,1.30 617.65,1.48 617.44,1.62 617.10,1.75 616.61,1.86 615.97,1.96 615.16,2.04 614.14,2.11 612.85,2.15 611.09,2.18 606.75,2.19 602.41,2.18 600.65,2.15 599.36,2.11 598.34,2.04 597.53,1.96 596.89,1.86 596.40,1.75 596.06,1.62 595.85,1.48 595.78,1.30 595.85,1.12 596.06,0.98 596.40,0.85 596.89,0.74 597.53,0.64 598.34,0.56 599.36,0.49 600.65,0.45 602.41,0.42 606.75,0.41 611.09,0.42 612.85,0.45 614.14,0.49 615.16,0.56 615.97,0.64 616.61,0.74 617.10,0.85 617.44,0.98 617.65,1.12" fill="rgba(45,45,60,0.9)" filter="url(#bls)" transform="rotate(5.31 606.75 1.30)"/>
</g>
<rect x="529.40" y="-10.00" width="94.60" height="16.60" fill="none" stroke="#111" stroke-width="1.1"/>
<text x="529.90" y="16.50" font-size="7.6" text-anchor="start" fill="#1c1c1c" font-weight="bold" textLength="14.40" lengthAdjust="spacingAndGlyphs">0.98</text>
<text x="549.50" y="16.50" font-size="7.6" text-anchor="start" fill="#1c1c1c" font-weight="bold" textLength="21.40" lengthAdjust="spacingAndGlyphs">0.88**</text>
<text x="573.90" y="16.50" font-size="7.6" text-anchor="start" fill="#1c1c1c" font-weight="bold" textLength="21.20" lengthAdjust="spacingAndGlyphs">0.87**</text>
<text x="598.10" y="16.50" font-size="7.6" text-anchor="start" fill="#1c1c1c" font-weight="bold" textLength="24.10" lengthAdjust="spacingAndGlyphs">0.76***</text>
<rect x="529.40" y="21.70" width="94.60" height="24.70" fill="#f4f4f4"/>
<g clip-path="url(#c9)">

<rect x="529.40" y="21.70" width="94.60" height="24.70" filter="url(#nz)" opacity="0.1"/>
<polygon points="549.96,29.80 549.91,30.39 549.76,30.86 549.50,31.28 549.13,31.65 548.64,31.98 548.02,32.25 547.25,32.46 546.27,32.61 544.94,32.71 541.65,32.74 538.36,32.71 537.03,32.61 536.05,32.46 535.28,32.25 534.66,31.98 534.17,31.65 533.80,31.28 533.54,30.86 533.39,30.39 533.34,29.80 533.39,29.21 533.54,28.74 533.80,28.32 534.17,27.95 534.66,27.62 535.28,27.35 536.05,27.14 537.03,26.99 538.36,26.89 541.65,26.86 544.94,26.89 546.27,26.99 547.25,27.14 548.02,27.35 548.64,27.62 549.13,27.95 549.50,28.32 549.76,28.74 549.91,29.21" fill="#0a0a0a" filter="url(#bl)" transform="rotate(0.00 541.65 29.80)"/>
<polygon points="548.94,31.00 548.90,31.48 548.76,31.87 548.53,32.22 548.21,32.52 547.78,32.79 547.24,33.01 546.56,33.18 545.70,33.31 544.53,33.39 541.65,33.41 538.77,33.39 537.60,33.31 536.74,33.18 536.06,33.01 535.52,32.79 535.09,32.52 534.77,32.22 534.54,31.87 534.40,31.48 534.36,31.00 534.40,30.52 534.54,30.13 534.77,29.78 535.09,29.48 535.52,29.21 536.06,28.99 536.74,28.82 537.60,28.69 538.77,28.61 541.65,28.59 544.53,28.61 545.70,28.69 546.56,28.82 547.24,28.99 547.78,29.21 548.21,29.48 548.53,29.78 548.76,30.13 548.90,30.52" fill="#0a0a0a" filter="url(#bl)" transform="rotate(0.00 541.65 31.00)"/>
<polygon points="538.04,27.80 538.03,28.18 537.99,28.48 537.92,28.75 537.82,28.99 537.69,29.20 537.52,29.37 537.31,29.51 537.05,29.61 536.69,29.67 535.80,29.69 534.91,29.67 534.55,29.61 534.29,29.51 534.08,29.37 533.91,29.20 533.78,28.99 533.68,28.75 533.61,28.48 533.57,28.18 533.56,27.80 533.57,27.42 533.61,27.12 533.68,26.85 533.78,26.61 533.91,26.40 534.08,26.23 534.29,26.09 534.55,25.99 534.91,25.93 535.80,25.91 536.69,25.93 537.05,25.99 537.31,26.09 537.52,26.23 537.69,26.40 537.82,26.61 537.92,26.85 537.99,27.12 538.03,27.42" fill="#0a0a0a" filter="url(#bl)" transform="rotate(-17.65 535.80 27.80)"/>
<polygon points="549.84,27.80 549.83,28.18 549.79,28.48 549.72,28.75 549.62,28.99 549.49,29.20 549.32,29.37 549.11,29.51 548.85,29.61 548.49,29.67 547.60,29.69 546.71,29.67 546.35,29.61 546.09,29.51 545.88,29.37 545.71,29.20 545.58,28.99 545.48,28.75 545.41,28.48 545.37,28.18 545.36,27.80 545.37,27.42 545.41,27.12 545.48,26.85 545.58,26.61 545.71,26.40 545.88,26.23 546.09,26.09 546.35,25.99 546.71,25.93 547.60,25.91 548.49,25.93 548.85,25.99 549.11,26.09 549.32,26.23 549.49,26.40 549.62,26.61 549.72,26.85 549.79,27.12 549.83,27.42" fill="#0a0a0a" filter="url(#bl)" transform="rotate(17.65 547.60 27.80)"/>
<polygon points="568.55,29.60 568.51,30.19 568.36,30.66 568.11,31.08 567.76,31.45 567.30,31.78 566.72,32.05 565.99,32.26 565.07,32.41 563.81,32.51 560.70,32.54 557.59,32.51 556.33,32.41 555.41,32.26 554.68,32.05 554.10,31.78 553.64,31.45 553.29,31.08 553.04,30.66 552.89,30.19 552.85,29.60 552.89,29.01 553.04,28.54 553.29,28.12 553.64,27.75 554.10,27.42 554.68,27.15 555.41,26.94 556.33,26.79 557.59,26.69 560.70,26.66 563.81,26.69 565.07,26.79 565.99,26.94 566.72,27.15 567.30,27.42 567.76,27.75 568.11,28.12 568.36,28.54 568.51,29.01" fill="#0a0a0a" filter="url(#bl)" transform="rotate(0.00 560.70 29.60)"/>
<polygon points="567.53,30.80 567.49,31.28 567.36,31.67 567.15,32.02 566.85,32.32 566.45,32.59 565.94,32.81 565.30,32.98 564.50,33.11 563.40,33.19 560.70,33.22 558.00,33.19 556.90,33.11 556.10,32.98 555.46,32.81 554.95,32.59 554.55,32.32 554.25,32.02 554.04,31.67 553.91,31.28 553.87,30.80 553.91,30.32 554.04,29.93 554.25,29.58 554.55,29.28 554.95,29.01 555.46,28.79 556.10,28.62 556.90,28.49 558.00,28.41 560.70,28.39 563.40,28.41 564.50,28.49 565.30,28.62 565.94,28.79 566.45,29.01 566.85,29.28 567.15,29.58 567.36,29.93 567.49,30.32" fill="#0a0a0a" filter="url(#bl)" transform="rotate(0.00 560.70 30.80)"/>
<polygon points="557.54,27.80 557.53,28.18 557.49,28.48 557.42,28.75 557.32,28.99 557.19,29.20 557.02,29.37 556.81,29.51 556.55,29.61 556.19,29.67 555.30,29.69 554.41,29.67 554.05,29.61 553.79,29.51 553.58,29.37 553.41,29.20 553.28,28.99 553.18,28.75 553.11,28.48 553.07,28.18 553.06,27.80 553.07,27.42 553.11,27.12 553.18,26.85 553.28,26.61 553.41,26.40 553.58,26.23 553.79,26.09 554.05,25.99 554.41,25.93 555.30,25.91 556.19,25.93 556.55,25.99 556.81,26.09 557.02,26.23 557.19,26.40 557.32,26.61 557.42,26.85 557.49,27.12 557.53,27.42" fill="#0a0a0a" filter="url(#bl)" transform="rotate(-17.65 555.30 27.80)"/>
<polygon points="568.44,27.80 568.43,28.18 568.39,28.48 568.32,28.75 568.22,28.99 568.09,29.20 567.92,29.37 567.71,29.51 567.45,29.61 567.09,29.67 566.20,29.69 565.31,29.67 564.95,29.61 564.69,29.51 564.48,29.37 564.31,29.20 564.18,28.99 564.08,28.75 564.01,28.48 563.97,28.18 563.96,27.80 563.97,27.42 564.01,27.12 564.08,26.85 564.18,26.61 564.31,26.40 564.48,26.23 564.69,26.09 564.95,25.99 565.31,25.93 566.20,25.91 567.09,25.93 567.45,25.99 567.71,26.09 567.92,26.23 568.09,26.40 568.22,26.61 568.32,26.85 568.39,27.12 568.43,27.42" fill="#0a0a0a" filter="url(#bl)" transform="rotate(17.65 566.20 27.80)"/>
<polygon points="589.78,32.00 589.72,32.48 589.55,32.87 589.27,33.22 588.86,33.52 588.32,33.79 587.64,34.01 586.79,34.18 585.70,34.31 584.23,34.39 580.60,34.41 576.97,34.39 575.50,34.31 574.41,34.18 573.56,34.01 572.88,33.79 572.34,33.52 571.93,33.22 571.65,32.87 571.48,32.48 571.42,32.00 571.48,31.52 571.65,31.13 571.93,30.78 572.34,30.48 572.88,30.21 573.56,29.99 574.41,29.82 575.50,29.69 576.97,29.61 580.60,29.59 584.23,29.61 585.70,29.69 586.79,29.82 587.64,29.99 588.32,30.21 588.86,30.48 589.27,30.78 589.55,31.13 589.72,31.52" fill="#0a0a0a" filter="url(#bl)" transform="rotate(10.70 580.60 32.00)"/>
<polygon points="617.82,38.60 617.75,39.10 617.54,39.51 617.19,39.87 616.68,40.19 616.01,40.46 615.17,40.70 614.11,40.88 612.77,41.01 610.95,41.09 606.45,41.12 601.95,41.09 600.13,41.01 598.79,40.88 597.73,40.70 596.89,40.46 596.22,40.19 595.71,39.87 595.36,39.51 595.15,39.10 595.08,38.60 595.15,38.10 595.36,37.69 595.71,37.33 596.22,37.01 596.89,36.74 597.73,36.50 598.79,36.32 600.13,36.19 601.95,36.11 606.45,36.08 610.95,36.11 612.77,36.19 614.11,36.32 615.17,36.50 616.01,36.74 616.68,37.01 617.19,37.33 617.54,37.69 617.75,38.10" fill="#0a0a0a" filter="url(#bl)" transform="rotate(8.17 606.45 38.60)"/>
<polygon points="546.17,45.40 546.12,45.57 545.96,45.70 545.68,45.82 545.30,45.93 544.79,46.02 544.15,46.10 543.34,46.16 542.32,46.20 540.93,46.23 537.50,46.24 534.07,46.23 532.68,46.20 531.66,46.16 530.85,46.10 530.21,46.02 529.70,45.93 529.32,45.82 529.04,45.70 528.88,45.57 528.83,45.40 528.88,45.23 529.04,45.10 529.32,44.98 529.70,44.87 530.21,44.78 530.85,44.70 531.66,44.64 532.68,44.60 534.07,44.57 537.50,44.56 540.93,44.57 542.32,44.60 543.34,44.64 544.15,44.70 544.79,44.78 545.30,44.87 545.68,44.98 545.96,45.10 546.12,45.23" fill="rgba(20,20,20,0.8)" filter="url(#bl)" transform="rotate(0.00 537.50 45.40)"/>
<polygon points="562.14,45.60 562.10,45.73 561.96,45.83 561.74,45.92 561.42,46.00 561.00,46.07 560.47,46.12 559.81,46.17 558.97,46.20 557.82,46.22 555.00,46.23 552.18,46.22 551.03,46.20 550.19,46.17 549.53,46.12 549.00,46.07 548.58,46.00 548.26,45.92 548.04,45.83 547.90,45.73 547.86,45.60 547.90,45.47 548.04,45.37 548.26,45.28 548.58,45.20 549.00,45.13 549.53,45.08 550.19,45.03 551.03,45.00 552.18,44.98 555.00,44.97 557.82,44.98 558.97,45.00 559.81,45.03 560.47,45.08 561.00,45.13 561.42,45.20 561.74,45.28 561.96,45.37 562.10,45.47" fill="rgba(20,20,20,0.6)" filter="url(#bl)" transform="rotate(0.00 555.00 45.60)"/>
</g>
<rect x="529.40" y="21.70" width="94.60" height="24.70" fill="none" stroke="#111" stroke-width="1.1"/>
<text x="470.75" y="36.70" font-size="11" text-anchor="start" fill="#1c1c1c" stroke="#1c1c1c" stroke-width="0.32" textLength="53.00" lengthAdjust="spacingAndGlyphs">Anti-<tspan font-style="italic">β</tspan> actin</text>
<text x="532.10" y="55.00" font-size="7.6" text-anchor="start" fill="#1c1c1c" font-weight="bold" textLength="14.70" lengthAdjust="spacingAndGlyphs">0.83</text>
<text x="555.80" y="55.00" font-size="7.6" text-anchor="start" fill="#1c1c1c" font-weight="bold" textLength="15.10" lengthAdjust="spacingAndGlyphs">0.80</text>
<text x="578.20" y="55.00" font-size="7.6" text-anchor="start" fill="#1c1c1c" font-weight="bold" textLength="14.40" lengthAdjust="spacingAndGlyphs">0.84</text>
<text x="600.70" y="55.00" font-size="7.6" text-anchor="start" fill="#1c1c1c" font-weight="bold" textLength="14.70" lengthAdjust="spacingAndGlyphs">0.83</text>
<rect x="529.40" y="61.10" width="94.60" height="22.20" fill="#f5f5f5"/>
<g clip-path="url(#c10)">

<rect x="529.40" y="61.10" width="94.60" height="22.20" filter="url(#nz)" opacity="0.1"/>
<polygon points="551.19,69.00 551.13,69.54 550.95,69.98 550.64,70.37 550.21,70.72 549.64,71.02 548.92,71.27 548.01,71.47 546.86,71.61 545.30,71.70 541.45,71.73 537.60,71.70 536.04,71.61 534.89,71.47 533.98,71.27 533.26,71.02 532.69,70.72 532.26,70.37 531.95,69.98 531.77,69.54 531.71,69.00 531.77,68.46 531.95,68.02 532.26,67.63 532.69,67.28 533.26,66.98 533.98,66.73 534.89,66.53 536.04,66.39 537.60,66.30 541.45,66.27 545.30,66.30 546.86,66.39 548.01,66.53 548.92,66.73 549.64,66.98 550.21,67.28 550.64,67.63 550.95,68.02 551.13,68.46" fill="#0a0a0a" filter="url(#bl)" transform="rotate(0.60 541.45 69.00)"/>
<polygon points="537.04,67.60 537.03,67.96 536.99,68.24 536.92,68.50 536.81,68.72 536.68,68.92 536.51,69.08 536.30,69.21 536.03,69.31 535.66,69.37 534.75,69.38 533.84,69.37 533.47,69.31 533.20,69.21 532.99,69.08 532.82,68.92 532.69,68.72 532.58,68.50 532.51,68.24 532.47,67.96 532.46,67.60 532.47,67.24 532.51,66.96 532.58,66.70 532.69,66.48 532.82,66.28 532.99,66.12 533.20,65.99 533.47,65.89 533.84,65.83 534.75,65.81 535.66,65.83 536.03,65.89 536.30,65.99 536.51,66.12 536.68,66.28 536.81,66.48 536.92,66.70 536.99,66.96 537.03,67.24" fill="#0a0a0a" filter="url(#bl)" transform="rotate(-14.93 534.75 67.60)"/>
<polygon points="550.65,67.60 550.63,67.96 550.59,68.24 550.51,68.50 550.41,68.72 550.27,68.92 550.10,69.08 549.88,69.21 549.60,69.31 549.23,69.37 548.30,69.38 547.37,69.37 547.00,69.31 546.72,69.21 546.50,69.08 546.33,68.92 546.19,68.72 546.09,68.50 546.01,68.24 545.97,67.96 545.95,67.60 545.97,67.24 546.01,66.96 546.09,66.70 546.19,66.48 546.33,66.28 546.50,66.12 546.72,65.99 547.00,65.89 547.37,65.83 548.30,65.81 549.23,65.83 549.60,65.89 549.88,65.99 550.10,66.12 550.27,66.28 550.41,66.48 550.51,66.70 550.59,66.96 550.63,67.24" fill="#0a0a0a" filter="url(#bl)" transform="rotate(14.62 548.30 67.60)"/>
<polygon points="571.20,69.20 571.14,69.74 570.95,70.18 570.63,70.57 570.17,70.92 569.58,71.22 568.82,71.47 567.87,71.67 566.67,71.81 565.03,71.90 561.00,71.93 556.97,71.90 555.33,71.81 554.13,71.67 553.18,71.47 552.42,71.22 551.83,70.92 551.37,70.57 551.05,70.18 550.86,69.74 550.80,69.20 550.86,68.66 551.05,68.22 551.37,67.83 551.83,67.48 552.42,67.18 553.18,66.93 554.13,66.73 555.33,66.59 556.97,66.50 561.00,66.47 565.03,66.50 566.67,66.59 567.87,66.73 568.82,66.93 569.58,67.18 570.17,67.48 570.63,67.83 570.95,68.22 571.14,68.66" fill="#0a0a0a" filter="url(#bl)" transform="rotate(1.15 561.00 69.20)"/>
<polygon points="556.54,67.80 556.53,68.16 556.49,68.44 556.42,68.70 556.31,68.92 556.18,69.12 556.01,69.28 555.80,69.41 555.53,69.51 555.16,69.57 554.25,69.58 553.34,69.57 552.97,69.51 552.70,69.41 552.49,69.28 552.32,69.12 552.19,68.92 552.08,68.70 552.01,68.44 551.97,68.16 551.96,67.80 551.97,67.44 552.01,67.16 552.08,66.90 552.19,66.68 552.32,66.48 552.49,66.32 552.70,66.19 552.97,66.09 553.34,66.03 554.25,66.02 555.16,66.03 555.53,66.09 555.80,66.19 556.01,66.32 556.18,66.48 556.31,66.68 556.42,66.90 556.49,67.16 556.53,67.44" fill="#0a0a0a" filter="url(#bl)" transform="rotate(-14.93 554.25 67.80)"/>
<polygon points="590.71,71.20 590.64,71.74 590.44,72.18 590.11,72.57 589.63,72.92 589.01,73.22 588.21,73.47 587.22,73.67 585.95,73.81 584.24,73.90 580.00,73.93 575.76,73.90 574.05,73.81 572.78,73.67 571.79,73.47 570.99,73.22 570.37,72.92 569.89,72.57 569.56,72.18 569.36,71.74 569.29,71.20 569.36,70.66 569.56,70.22 569.89,69.83 570.37,69.48 570.99,69.18 571.79,68.93 572.78,68.73 574.05,68.59 575.76,68.50 580.00,68.47 584.24,68.50 585.95,68.59 587.22,68.73 588.21,68.93 589.01,69.18 589.63,69.48 590.11,69.83 590.44,70.22 590.64,70.66" fill="#0a0a0a" filter="url(#bl)" transform="rotate(5.98 580.00 71.20)"/>
<polygon points="618.64,75.00 618.56,75.56 618.34,76.02 617.96,76.43 617.41,76.79 616.70,77.10 615.79,77.36 614.66,77.56 613.23,77.71 611.27,77.80 606.45,77.83 601.63,77.80 599.67,77.71 598.24,77.56 597.11,77.36 596.20,77.10 595.49,76.79 594.94,76.43 594.56,76.02 594.34,75.56 594.26,75.00 594.34,74.44 594.56,73.98 594.94,73.57 595.49,73.21 596.20,72.90 597.11,72.64 598.24,72.44 599.67,72.29 601.63,72.20 606.45,72.17 611.27,72.20 613.23,72.29 614.66,72.44 615.79,72.64 616.70,72.90 617.41,73.21 617.96,73.57 618.34,73.98 618.56,74.44" fill="#0a0a0a" filter="url(#bl)" transform="rotate(4.78 606.45 75.00)"/>
</g>
<rect x="529.40" y="61.10" width="94.60" height="22.20" fill="none" stroke="#111" stroke-width="1.1"/>
<text x="478.55" y="71.70" font-size="11" text-anchor="start" fill="#1c1c1c" stroke="#1c1c1c" stroke-width="0.32" textLength="45.20" lengthAdjust="spacingAndGlyphs">Anti-BAX</text>
<text x="532.10" y="92.30" font-size="7.6" text-anchor="start" fill="#1c1c1c" stroke="#1c1c1c" stroke-width="0.12" textLength="14.70" lengthAdjust="spacingAndGlyphs">0.66</text>
<text x="555.00" y="92.30" font-size="7.6" text-anchor="start" fill="#1c1c1c" stroke="#1c1c1c" stroke-width="0.12" textLength="15.00" lengthAdjust="spacingAndGlyphs">0.68</text>
<text x="577.00" y="92.30" font-size="7.6" text-anchor="start" fill="#1c1c1c" stroke="#1c1c1c" stroke-width="0.12" textLength="14.70" lengthAdjust="spacingAndGlyphs">0.62</text>
<text x="600.70" y="92.30" font-size="7.6" text-anchor="start" fill="#1c1c1c" stroke="#1c1c1c" stroke-width="0.12" textLength="13.90" lengthAdjust="spacingAndGlyphs">0.65</text>
<line x1="533.50" y1="96.20" x2="621.60" y2="96.20" stroke="#555" stroke-width="1.3"/>
<text x="534.15" y="107.50" font-size="10.5" text-anchor="start" fill="#1c1c1c" stroke="#1c1c1c" stroke-width="0.12" textLength="82.60" lengthAdjust="spacingAndGlyphs">Myc-BCL-XL (C5)</text>
<line x1="386.60" y1="113.50" x2="591.00" y2="113.50" stroke="#444" stroke-width="1.2"/>
<text x="444.55" y="124.80" font-size="10.5" text-anchor="start" fill="#1c1c1c" stroke="#1c1c1c" stroke-width="0.12" textLength="87.30" lengthAdjust="spacingAndGlyphs">p&lt;0.05**, &lt;0.001***</text>
<text x="466.00" y="146.00" font-size="10" text-anchor="middle" fill="#1c1c1c" stroke="#1c1c1c" stroke-width="0.12">(b)</text>
<text x="14.55" y="346.70" font-size="11" text-anchor="start" fill="#1c1c1c" stroke="#1c1c1c" stroke-width="0.12" textLength="50.90" lengthAdjust="spacingAndGlyphs"><tspan font-style="italic">α</tspan>-Mg (<tspan font-style="italic">μ</tspan>M)</text>
<text x="2.35" y="369.00" font-size="11" text-anchor="start" fill="#1c1c1c" stroke="#1c1c1c" stroke-width="0.12" textLength="63.10" lengthAdjust="spacingAndGlyphs">Cyt. C (Cyto.)</text>
<text x="2.35" y="400.40" font-size="11" text-anchor="start" fill="#1c1c1c" stroke="#1c1c1c" stroke-width="0.12" textLength="63.10" lengthAdjust="spacingAndGlyphs">Cyt. C (Mito.)</text>
<text x="0.25" y="430.70" font-size="11" text-anchor="start" fill="#1c1c1c" stroke="#1c1c1c" stroke-width="0.12" textLength="65.00" lengthAdjust="spacingAndGlyphs">HSP60 (Mito.)</text>
<text x="109.40" y="339.80" font-size="7.5" text-anchor="middle" fill="#1c1c1c" stroke="#1c1c1c" stroke-width="0.12" textLength="21.50" lengthAdjust="spacingAndGlyphs">Vector</text>
<line x1="75.90" y1="343.60" x2="141.90" y2="343.60" stroke="#444" stroke-width="1"/>
<text x="157.55" y="339.80" font-size="7.5" text-anchor="start" fill="#1c1c1c" stroke="#1c1c1c" stroke-width="0.12" textLength="64.40" lengthAdjust="spacingAndGlyphs">HA-MOAP-1 (C1)</text>
<line x1="156.50" y1="343.60" x2="223.00" y2="343.60" stroke="#444" stroke-width="1"/>
<text x="237.25" y="339.80" font-size="7.5" text-anchor="start" fill="#1c1c1c" stroke="#1c1c1c" stroke-width="0.12" textLength="62.40" lengthAdjust="spacingAndGlyphs">Myc-BCL-XL (C5)</text>
<line x1="236.00" y1="343.80" x2="302.60" y2="343.80" stroke="#444" stroke-width="1"/>
<text x="84.30" y="354.40" font-size="7.5" text-anchor="middle" fill="#1c1c1c" stroke="#1c1c1c" stroke-width="0.12">0</text>
<text x="106.00" y="354.40" font-size="7.5" text-anchor="middle" fill="#1c1c1c" stroke="#1c1c1c" stroke-width="0.12">10</text>
<text x="129.60" y="354.40" font-size="7.5" text-anchor="middle" fill="#1c1c1c" stroke="#1c1c1c" stroke-width="0.12">15</text>
<text x="165.40" y="354.40" font-size="7.5" text-anchor="middle" fill="#1c1c1c" stroke="#1c1c1c" stroke-width="0.12">0</text>
<text x="187.20" y="354.40" font-size="7.5" text-anchor="middle" fill="#1c1c1c" stroke="#1c1c1c" stroke-width="0.12">10</text>
<text x="211.00" y="354.40" font-size="7.5" text-anchor="middle" fill="#1c1c1c" stroke="#1c1c1c" stroke-width="0.12">15</text>
<text x="245.50" y="354.40" font-size="7.5" text-anchor="middle" fill="#1c1c1c" stroke="#1c1c1c" stroke-width="0.12">0</text>
<text x="268.20" y="354.40" font-size="7.5" text-anchor="middle" fill="#1c1c1c" stroke="#1c1c1c" stroke-width="0.12">10</text>
<text x="291.20" y="354.40" font-size="7.5" text-anchor="middle" fill="#1c1c1c" stroke="#1c1c1c" stroke-width="0.12">15</text>
<rect x="70.60" y="357.90" width="76.10" height="16.50" fill="#b5b5b5"/>
<g clip-path="url(#c11)">

<rect x="70.60" y="357.90" width="76.10" height="16.50" filter="url(#nz)" opacity="0.1"/>
<polygon points="114.80,367.70 114.74,367.95 114.55,368.15 114.23,368.33 113.77,368.49 113.17,368.63 112.41,368.75 111.46,368.84 110.25,368.91 108.60,368.95 104.55,368.96 100.50,368.95 98.85,368.91 97.64,368.84 96.69,368.75 95.93,368.63 95.33,368.49 94.87,368.33 94.55,368.15 94.36,367.95 94.30,367.70 94.36,367.45 94.55,367.25 94.87,367.07 95.33,366.91 95.93,366.77 96.69,366.65 97.64,366.56 98.85,366.49 100.50,366.45 104.55,366.44 108.60,366.45 110.25,366.49 111.46,366.56 112.41,366.65 113.17,366.77 113.77,366.91 114.23,367.07 114.55,367.25 114.74,367.45" fill="#181818" filter="url(#bls)" transform="rotate(0.86 104.55 367.70)"/>
<polygon points="140.69,368.30 140.63,368.68 140.45,368.98 140.15,369.25 139.73,369.49 139.17,369.70 138.46,369.87 137.58,370.01 136.45,370.11 134.92,370.17 131.15,370.19 127.38,370.17 125.85,370.11 124.72,370.01 123.84,369.87 123.13,369.70 122.57,369.49 122.15,369.25 121.85,368.98 121.67,368.68 121.61,368.30 121.67,367.92 121.85,367.62 122.15,367.35 122.57,367.11 123.13,366.90 123.84,366.73 124.72,366.59 125.85,366.49 127.38,366.43 131.15,366.41 134.92,366.43 136.45,366.49 137.58,366.59 138.46,366.73 139.17,366.90 139.73,367.11 140.15,367.35 140.45,367.62 140.63,367.92" fill="#0a0a0a" filter="url(#bl)" transform="rotate(1.23 131.15 368.30)"/>
</g>
<rect x="71.80" y="359.10" width="73.70" height="14.10" fill="none" stroke="#ffffff" stroke-opacity="0.28" stroke-width="0.9"/>
<rect x="70.60" y="357.90" width="76.10" height="16.50" fill="none" stroke="#222" stroke-width="1.1"/>
<text x="75.20" y="384.80" font-size="7.6" text-anchor="start" fill="#1c1c1c" font-weight="bold" textLength="15.60" lengthAdjust="spacingAndGlyphs">0.00</text>
<text x="99.60" y="384.80" font-size="7.6" text-anchor="start" fill="#1c1c1c" font-weight="bold" textLength="15.60" lengthAdjust="spacingAndGlyphs">0.95</text>
<text x="121.90" y="384.80" font-size="7.6" text-anchor="start" fill="#1c1c1c" font-weight="bold" textLength="21.30" lengthAdjust="spacingAndGlyphs">1.15**</text>
<rect x="70.60" y="388.50" width="76.10" height="16.20" fill="#adadad"/>
<g clip-path="url(#c12)">

<rect x="70.60" y="388.50" width="76.10" height="16.20" filter="url(#nz)" opacity="0.1"/>
<polygon points="95.01,397.40 94.95,398.09 94.74,398.65 94.41,399.14 93.92,399.58 93.29,399.96 92.49,400.28 91.48,400.53 90.21,400.72 88.48,400.83 84.20,400.86 79.92,400.83 78.19,400.72 76.92,400.53 75.91,400.28 75.11,399.96 74.48,399.58 73.99,399.14 73.66,398.65 73.45,398.09 73.39,397.40 73.45,396.71 73.66,396.15 73.99,395.66 74.48,395.22 75.11,394.84 75.91,394.52 76.92,394.27 78.19,394.08 79.92,393.97 84.20,393.94 88.48,393.97 90.21,394.08 91.48,394.27 92.49,394.52 93.29,394.84 93.92,395.22 94.41,395.66 94.74,396.15 94.95,396.71" fill="#0a0a0a" filter="url(#bl)" transform="rotate(0.00 84.20 397.40)"/>
<polygon points="117.69,396.30 117.63,396.86 117.45,397.32 117.15,397.73 116.73,398.09 116.17,398.40 115.46,398.66 114.58,398.86 113.45,399.01 111.92,399.10 108.15,399.13 104.38,399.10 102.85,399.01 101.72,398.86 100.84,398.66 100.13,398.40 99.57,398.09 99.15,397.73 98.85,397.32 98.67,396.86 98.61,396.30 98.67,395.74 98.85,395.28 99.15,394.87 99.57,394.51 100.13,394.20 100.84,393.94 101.72,393.74 102.85,393.59 104.38,393.50 108.15,393.47 111.92,393.50 113.45,393.59 114.58,393.74 115.46,393.94 116.17,394.20 116.73,394.51 117.15,394.87 117.45,395.28 117.63,395.74" fill="#0a0a0a" filter="url(#bl)" transform="rotate(0.00 108.15 396.30)"/>
<polygon points="143.51,395.80 143.44,396.11 143.25,396.37 142.91,396.59 142.44,396.79 141.82,396.97 141.03,397.11 140.05,397.22 138.80,397.31 137.10,397.36 132.90,397.38 128.70,397.36 127.00,397.31 125.75,397.22 124.77,397.11 123.98,396.97 123.36,396.79 122.89,396.59 122.55,396.37 122.36,396.11 122.29,395.80 122.36,395.49 122.55,395.23 122.89,395.01 123.36,394.81 123.98,394.63 124.77,394.49 125.75,394.38 127.00,394.29 128.70,394.24 132.90,394.23 137.10,394.24 138.80,394.29 140.05,394.38 141.03,394.49 141.82,394.63 142.44,394.81 142.91,395.01 143.25,395.23 143.44,395.49" fill="rgba(35,35,35,0.7)" filter="url(#bls)" transform="rotate(-2.20 132.90 395.80)"/>
</g>
<rect x="71.80" y="389.70" width="73.70" height="13.80" fill="none" stroke="#ffffff" stroke-opacity="0.28" stroke-width="0.9"/>
<rect x="70.60" y="388.50" width="76.10" height="16.20" fill="none" stroke="#222" stroke-width="1.1"/>
<text x="76.20" y="414.30" font-size="7.6" text-anchor="start" fill="#1c1c1c" font-weight="bold" textLength="14.60" lengthAdjust="spacingAndGlyphs">1.03</text>
<text x="97.80" y="414.30" font-size="7.6" text-anchor="start" fill="#1c1c1c" font-weight="bold" textLength="21.00" lengthAdjust="spacingAndGlyphs">0.58**</text>
<text x="122.60" y="414.30" font-size="7.6" text-anchor="start" fill="#1c1c1c" font-weight="bold" textLength="21.30" lengthAdjust="spacingAndGlyphs">0.49**</text>
<rect x="70.60" y="418.30" width="76.10" height="17.10" fill="#bebebe"/>
<g clip-path="url(#c13)">

<rect x="70.60" y="418.30" width="76.10" height="17.10" filter="url(#nz)" opacity="0.1"/>
<polygon points="94.72,424.80 94.65,425.22 94.44,425.56 94.10,425.86 93.61,426.12 92.96,426.35 92.15,426.55 91.12,426.70 89.82,426.81 88.06,426.88 83.70,426.90 79.34,426.88 77.58,426.81 76.28,426.70 75.25,426.55 74.44,426.35 73.79,426.12 73.30,425.86 72.96,425.56 72.75,425.22 72.68,424.80 72.75,424.38 72.96,424.04 73.30,423.74 73.79,423.48 74.44,423.25 75.25,423.05 76.28,422.90 77.58,422.79 79.34,422.72 83.70,422.70 88.06,422.72 89.82,422.79 91.12,422.90 92.15,423.05 92.96,423.25 93.61,423.48 94.10,423.74 94.44,424.04 94.65,424.38" fill="#0a0a0a" filter="url(#bl)" transform="rotate(0.80 83.70 424.80)"/>
<polygon points="98.05,425.30 98.03,425.53 97.99,425.72 97.91,425.88 97.79,426.03 97.64,426.15 97.46,426.26 97.22,426.34 96.92,426.41 96.51,426.44 95.50,426.45 94.49,426.44 94.08,426.41 93.78,426.34 93.54,426.26 93.36,426.15 93.21,426.03 93.09,425.88 93.01,425.72 92.97,425.53 92.95,425.30 92.97,425.07 93.01,424.88 93.09,424.72 93.21,424.57 93.36,424.45 93.54,424.34 93.78,424.26 94.08,424.19 94.49,424.16 95.50,424.15 96.51,424.16 96.92,424.19 97.22,424.26 97.46,424.34 97.64,424.45 97.79,424.57 97.91,424.72 97.99,424.88 98.03,425.07" fill="#0a0a0a" filter="url(#bls)" transform="rotate(0.00 95.50 425.30)"/>
<polygon points="117.01,425.50 116.94,425.96 116.74,426.33 116.41,426.66 115.94,426.96 115.31,427.21 114.52,427.42 113.53,427.59 112.28,427.71 110.57,427.79 106.35,427.81 102.13,427.79 100.42,427.71 99.17,427.59 98.18,427.42 97.39,427.21 96.76,426.96 96.29,426.66 95.96,426.33 95.76,425.96 95.69,425.50 95.76,425.04 95.96,424.67 96.29,424.34 96.76,424.04 97.39,423.79 98.18,423.58 99.17,423.41 100.42,423.29 102.13,423.21 106.35,423.19 110.57,423.21 112.28,423.29 113.53,423.41 114.52,423.58 115.31,423.79 115.94,424.04 116.41,424.34 116.74,424.67 116.94,425.04" fill="#0a0a0a" filter="url(#bl)" transform="rotate(1.37 106.35 425.50)"/>
<polygon points="144.22,426.20 144.15,426.66 143.94,427.03 143.60,427.36 143.11,427.66 142.47,427.91 141.66,428.12 140.64,428.29 139.35,428.41 137.59,428.49 133.25,428.51 128.91,428.49 127.15,428.41 125.86,428.29 124.84,428.12 124.03,427.91 123.39,427.66 122.90,427.36 122.56,427.03 122.35,426.66 122.28,426.20 122.35,425.74 122.56,425.37 122.90,425.04 123.39,424.74 124.03,424.49 124.84,424.28 125.86,424.11 127.15,423.99 128.91,423.91 133.25,423.89 137.59,423.91 139.35,423.99 140.64,424.11 141.66,424.28 142.47,424.49 143.11,424.74 143.60,425.04 143.94,425.37 144.15,425.74" fill="#0a0a0a" filter="url(#bl)" transform="rotate(0.80 133.25 426.20)"/>
</g>
<rect x="71.80" y="419.50" width="73.70" height="14.70" fill="none" stroke="#ffffff" stroke-opacity="0.28" stroke-width="0.9"/>
<rect x="70.60" y="418.30" width="76.10" height="17.10" fill="none" stroke="#222" stroke-width="1.1"/>
<text x="77.60" y="445.30" font-size="7.6" text-anchor="start" fill="#1c1c1c" stroke="#1c1c1c" stroke-width="0.12" textLength="14.60" lengthAdjust="spacingAndGlyphs">0.76</text>
<text x="102.10" y="445.30" font-size="7.6" text-anchor="start" fill="#1c1c1c" stroke="#1c1c1c" stroke-width="0.12" textLength="14.60" lengthAdjust="spacingAndGlyphs">0.71</text>
<text x="126.40" y="445.30" font-size="7.6" text-anchor="start" fill="#1c1c1c" stroke="#1c1c1c" stroke-width="0.12" textLength="14.60" lengthAdjust="spacingAndGlyphs">0.76</text>
<rect x="150.50" y="357.90" width="77.90" height="16.50" fill="#c6c6c6"/>
<g clip-path="url(#c14)">

<rect x="150.50" y="357.90" width="77.90" height="16.50" filter="url(#nz)" opacity="0.1"/>
<polygon points="201.20,367.00 201.14,367.52 200.95,367.95 200.63,368.32 200.17,368.65 199.57,368.94 198.81,369.18 197.86,369.37 196.65,369.51 195.00,369.60 190.95,369.62 186.90,369.60 185.25,369.51 184.04,369.37 183.09,369.18 182.33,368.94 181.73,368.65 181.27,368.32 180.95,367.95 180.76,367.52 180.70,367.00 180.76,366.48 180.95,366.05 181.27,365.68 181.73,365.35 182.33,365.06 183.09,364.82 184.04,364.63 185.25,364.49 186.90,364.40 190.95,364.38 195.00,364.40 196.65,364.49 197.86,364.63 198.81,364.82 199.57,365.06 200.17,365.35 200.63,365.68 200.95,366.05 201.14,366.48" fill="#0a0a0a" filter="url(#bl)" transform="rotate(0.00 190.95 367.00)"/>
<polygon points="225.02,368.00 224.95,368.56 224.74,369.02 224.40,369.43 223.91,369.79 223.26,370.10 222.45,370.36 221.42,370.56 220.12,370.71 218.36,370.80 214.00,370.83 209.64,370.80 207.88,370.71 206.58,370.56 205.55,370.36 204.74,370.10 204.09,369.79 203.60,369.43 203.26,369.02 203.05,368.56 202.98,368.00 203.05,367.44 203.26,366.98 203.60,366.57 204.09,366.21 204.74,365.90 205.55,365.64 206.58,365.44 207.88,365.29 209.64,365.20 214.00,365.17 218.36,365.20 220.12,365.29 221.42,365.44 222.45,365.64 223.26,365.90 223.91,366.21 224.40,366.57 224.74,366.98 224.95,367.44" fill="#0a0a0a" filter="url(#bl)" transform="rotate(1.06 214.00 368.00)"/>
</g>
<rect x="151.70" y="359.10" width="75.50" height="14.10" fill="none" stroke="#ffffff" stroke-opacity="0.28" stroke-width="0.9"/>
<rect x="150.50" y="357.90" width="77.90" height="16.50" fill="none" stroke="#222" stroke-width="1.1"/>
<text x="155.20" y="384.80" font-size="7.6" text-anchor="start" fill="#1c1c1c" font-weight="bold" textLength="15.10" lengthAdjust="spacingAndGlyphs">0.00</text>
<text x="181.10" y="384.80" font-size="7.6" text-anchor="start" fill="#1c1c1c" font-weight="bold" textLength="14.80" lengthAdjust="spacingAndGlyphs">1.06</text>
<text x="204.10" y="384.80" font-size="7.6" text-anchor="start" fill="#1c1c1c" font-weight="bold" textLength="20.50" lengthAdjust="spacingAndGlyphs">1.44**</text>
<rect x="150.50" y="388.50" width="77.90" height="16.20" fill="#bebebe"/>
<g clip-path="url(#c15)">

<rect x="150.50" y="388.50" width="77.90" height="16.20" filter="url(#nz)" opacity="0.1"/>
<polygon points="177.83,396.00 177.76,396.69 177.54,397.25 177.17,397.74 176.64,398.18 175.94,398.56 175.06,398.88 173.96,399.13 172.56,399.32 170.65,399.43 165.95,399.46 161.25,399.43 159.34,399.32 157.94,399.13 156.84,398.88 155.96,398.56 155.26,398.18 154.73,397.74 154.36,397.25 154.14,396.69 154.07,396.00 154.14,395.31 154.36,394.75 154.73,394.26 155.26,393.82 155.96,393.44 156.84,393.12 157.94,392.87 159.34,392.68 161.25,392.57 165.95,392.54 170.65,392.57 172.56,392.68 173.96,392.87 175.06,393.12 175.94,393.44 176.64,393.82 177.17,394.26 177.54,394.75 177.76,395.31" fill="#0a0a0a" filter="url(#bl)" transform="rotate(1.48 165.95 396.00)"/>
<polygon points="200.25,397.00 200.17,397.38 199.93,397.68 199.54,397.95 198.97,398.19 198.22,398.40 197.28,398.57 196.09,398.71 194.59,398.81 192.54,398.87 187.50,398.89 182.46,398.87 180.41,398.81 178.91,398.71 177.72,398.57 176.78,398.40 176.03,398.19 175.46,397.95 175.07,397.68 174.83,397.38 174.75,397.00 174.83,396.62 175.07,396.32 175.46,396.05 176.03,395.81 176.78,395.60 177.72,395.43 178.91,395.29 180.41,395.19 182.46,395.13 187.50,395.11 192.54,395.13 194.59,395.19 196.09,395.29 197.28,395.43 198.22,395.60 198.97,395.81 199.54,396.05 199.93,396.32 200.17,396.62" fill="rgba(12,12,12,0.9)" filter="url(#bl)" transform="rotate(0.69 187.50 397.00)"/>
<polygon points="208.12,397.40 208.08,397.61 207.97,397.78 207.78,397.93 207.50,398.06 207.15,398.18 206.69,398.27 206.12,398.35 205.40,398.41 204.42,398.44 202.00,398.45 199.58,398.44 198.60,398.41 197.88,398.35 197.31,398.27 196.85,398.18 196.50,398.06 196.22,397.93 196.03,397.78 195.92,397.61 195.88,397.40 195.92,397.19 196.03,397.02 196.22,396.87 196.50,396.74 196.85,396.62 197.31,396.53 197.88,396.45 198.60,396.39 199.58,396.36 202.00,396.35 204.42,396.36 205.40,396.39 206.12,396.45 206.69,396.53 207.15,396.62 207.50,396.74 207.78,396.87 207.97,397.02 208.08,397.19" fill="rgba(40,40,40,0.4)" filter="url(#bl)" transform="rotate(0.00 202.00 397.40)"/>
</g>
<rect x="151.70" y="389.70" width="75.50" height="13.80" fill="none" stroke="#ffffff" stroke-opacity="0.28" stroke-width="0.9"/>
<rect x="150.50" y="388.50" width="77.90" height="16.20" fill="none" stroke="#222" stroke-width="1.1"/>
<text x="156.60" y="414.30" font-size="7.6" text-anchor="start" fill="#1c1c1c" font-weight="bold" textLength="14.90" lengthAdjust="spacingAndGlyphs">0.50</text>
<text x="181.80" y="414.30" font-size="7.6" text-anchor="start" fill="#1c1c1c" font-weight="bold" textLength="14.10" lengthAdjust="spacingAndGlyphs">0.44</text>
<text x="203.60" y="414.30" font-size="7.6" text-anchor="start" fill="#1c1c1c" font-weight="bold" textLength="21.00" lengthAdjust="spacingAndGlyphs">0.02**</text>
<rect x="151.30" y="418.70" width="77.10" height="16.80" fill="#b8b8b8"/>
<g clip-path="url(#c16)">

<rect x="151.30" y="418.70" width="77.10" height="16.80" filter="url(#nz)" opacity="0.1"/>
<polygon points="175.62,426.50 175.55,426.88 175.34,427.18 174.98,427.45 174.47,427.69 173.80,427.90 172.95,428.07 171.88,428.21 170.53,428.31 168.69,428.37 164.15,428.39 159.61,428.37 157.77,428.31 156.42,428.21 155.35,428.07 154.50,427.90 153.83,427.69 153.32,427.45 152.96,427.18 152.75,426.88 152.68,426.50 152.75,426.12 152.96,425.82 153.32,425.55 153.83,425.31 154.50,425.10 155.35,424.93 156.42,424.79 157.77,424.69 159.61,424.63 164.15,424.61 168.69,424.63 170.53,424.69 171.88,424.79 172.95,424.93 173.80,425.10 174.47,425.31 174.98,425.55 175.34,425.82 175.55,426.12" fill="#0a0a0a" filter="url(#bl)" transform="rotate(0.51 164.15 426.50)"/>
<polygon points="201.38,427.60 201.32,428.12 201.15,428.55 200.86,428.92 200.45,429.25 199.91,429.54 199.23,429.78 198.37,429.97 197.28,430.11 195.80,430.20 192.15,430.23 188.50,430.20 187.02,430.11 185.93,429.97 185.07,429.78 184.39,429.54 183.85,429.25 183.44,428.92 183.15,428.55 182.98,428.12 182.92,427.60 182.98,427.08 183.15,426.65 183.44,426.28 183.85,425.95 184.39,425.66 185.07,425.42 185.93,425.23 187.02,425.09 188.50,425.00 192.15,424.98 195.80,425.00 197.28,425.09 198.37,425.23 199.23,425.42 199.91,425.66 200.45,425.95 200.86,426.28 201.15,426.65 201.32,427.08" fill="#0a0a0a" filter="url(#bl)" transform="rotate(0.00 192.15 427.60)"/>
<polygon points="206.07,427.40 206.05,427.55 205.98,427.66 205.87,427.77 205.71,427.86 205.50,427.94 205.24,428.01 204.91,428.06 204.48,428.10 203.91,428.13 202.50,428.13 201.09,428.13 200.52,428.10 200.09,428.06 199.76,428.01 199.50,427.94 199.29,427.86 199.13,427.77 199.02,427.66 198.95,427.55 198.93,427.40 198.95,427.25 199.02,427.14 199.13,427.03 199.29,426.94 199.50,426.86 199.76,426.79 200.09,426.74 200.52,426.70 201.09,426.67 202.50,426.66 203.91,426.67 204.48,426.70 204.91,426.74 205.24,426.79 205.50,426.86 205.71,426.94 205.87,427.03 205.98,427.14 206.05,427.25" fill="rgba(20,20,20,0.6)" filter="url(#bls)" transform="rotate(0.00 202.50 427.40)"/>
<polygon points="224.40,426.90 224.34,427.36 224.15,427.73 223.82,428.06 223.36,428.36 222.76,428.61 221.99,428.82 221.03,428.99 219.81,429.11 218.14,429.19 214.05,429.21 209.96,429.19 208.29,429.11 207.07,428.99 206.11,428.82 205.34,428.61 204.74,428.36 204.28,428.06 203.95,427.73 203.76,427.36 203.70,426.90 203.76,426.44 203.95,426.07 204.28,425.74 204.74,425.44 205.34,425.19 206.11,424.98 207.07,424.81 208.29,424.69 209.96,424.61 214.05,424.59 218.14,424.61 219.81,424.69 221.03,424.81 221.99,424.98 222.76,425.19 223.36,425.44 223.82,425.74 224.15,426.07 224.34,426.44" fill="#0a0a0a" filter="url(#bl)" transform="rotate(0.00 214.05 426.90)"/>
</g>
<rect x="152.50" y="419.90" width="74.70" height="14.40" fill="none" stroke="#ffffff" stroke-opacity="0.28" stroke-width="0.9"/>
<rect x="151.30" y="418.70" width="77.10" height="16.80" fill="none" stroke="#222" stroke-width="1.1"/>
<text x="156.90" y="444.80" font-size="7.6" text-anchor="start" fill="#1c1c1c" stroke="#1c1c1c" stroke-width="0.12" textLength="14.60" lengthAdjust="spacingAndGlyphs">0.61</text>
<text x="182.40" y="444.80" font-size="7.6" text-anchor="start" fill="#1c1c1c" stroke="#1c1c1c" stroke-width="0.12" textLength="14.60" lengthAdjust="spacingAndGlyphs">0.62</text>
<text x="206.70" y="444.80" font-size="7.6" text-anchor="start" fill="#1c1c1c" stroke="#1c1c1c" stroke-width="0.12" textLength="14.60" lengthAdjust="spacingAndGlyphs">0.65</text>
<rect x="232.30" y="357.50" width="76.30" height="16.60" fill="#b9b9b9"/>
<g clip-path="url(#c17)">

<rect x="232.30" y="357.50" width="76.30" height="16.60" filter="url(#nz)" opacity="0.1"/>
</g>
<rect x="233.50" y="358.70" width="73.90" height="14.20" fill="none" stroke="#ffffff" stroke-opacity="0.28" stroke-width="0.9"/>
<rect x="232.30" y="357.50" width="76.30" height="16.60" fill="none" stroke="#222" stroke-width="1.1"/>
<text x="237.20" y="383.80" font-size="7.6" text-anchor="start" fill="#1c1c1c" font-weight="bold" textLength="14.70" lengthAdjust="spacingAndGlyphs">0.00</text>
<text x="261.90" y="383.80" font-size="7.6" text-anchor="start" fill="#1c1c1c" font-weight="bold" textLength="14.90" lengthAdjust="spacingAndGlyphs">0.00</text>
<text x="286.40" y="383.80" font-size="7.6" text-anchor="start" fill="#1c1c1c" font-weight="bold" textLength="14.80" lengthAdjust="spacingAndGlyphs">0.00</text>
<rect x="232.30" y="387.40" width="76.30" height="16.60" fill="#b2b2b2"/>
<g clip-path="url(#c18)">

<rect x="232.30" y="387.40" width="76.30" height="16.60" filter="url(#nz)" opacity="0.1"/>
<polygon points="261.53,396.70 261.45,397.29 261.24,397.76 260.88,398.18 260.37,398.55 259.70,398.88 258.85,399.15 257.78,399.36 256.43,399.51 254.59,399.61 250.05,399.64 245.51,399.61 243.67,399.51 242.32,399.36 241.25,399.15 240.40,398.88 239.73,398.55 239.22,398.18 238.86,397.76 238.65,397.29 238.58,396.70 238.65,396.11 238.86,395.64 239.22,395.22 239.73,394.85 240.40,394.52 241.25,394.25 242.32,394.04 243.67,393.89 245.51,393.79 250.05,393.76 254.59,393.79 256.43,393.89 257.78,394.04 258.85,394.25 259.70,394.52 260.37,394.85 260.88,395.22 261.24,395.64 261.45,396.11" fill="#0a0a0a" filter="url(#bl)" transform="rotate(0.00 250.05 396.70)"/>
<polygon points="266.07,396.60 266.05,396.87 265.98,397.09 265.87,397.29 265.71,397.46 265.50,397.61 265.24,397.74 264.91,397.83 264.48,397.91 263.91,397.95 262.50,397.97 261.09,397.95 260.52,397.91 260.09,397.83 259.76,397.74 259.50,397.61 259.29,397.46 259.13,397.29 259.02,397.09 258.95,396.87 258.93,396.60 258.95,396.33 259.02,396.11 259.13,395.91 259.29,395.74 259.50,395.59 259.76,395.46 260.09,395.37 260.52,395.29 261.09,395.25 262.50,395.24 263.91,395.25 264.48,395.29 264.91,395.37 265.24,395.46 265.50,395.59 265.71,395.74 265.87,395.91 265.98,396.11 266.05,396.33" fill="#0a0a0a" filter="url(#bls)" transform="rotate(0.00 262.50 396.60)"/>
<polygon points="282.99,396.00 282.93,396.69 282.75,397.25 282.45,397.74 282.02,398.18 281.46,398.56 280.74,398.88 279.84,399.13 278.71,399.32 277.16,399.43 273.35,399.46 269.54,399.43 267.99,399.32 266.86,399.13 265.96,398.88 265.24,398.56 264.68,398.18 264.25,397.74 263.95,397.25 263.77,396.69 263.71,396.00 263.77,395.31 263.95,394.75 264.25,394.26 264.68,393.82 265.24,393.44 265.96,393.12 266.86,392.87 267.99,392.68 269.54,392.57 273.35,392.54 277.16,392.57 278.71,392.68 279.84,392.87 280.74,393.12 281.46,393.44 282.02,393.82 282.45,394.26 282.75,394.75 282.93,395.31" fill="#0a0a0a" filter="url(#bl)" transform="rotate(0.00 273.35 396.00)"/>
<polygon points="306.49,396.40 306.43,397.01 306.25,397.50 305.94,397.93 305.50,398.32 304.92,398.65 304.19,398.93 303.27,399.15 302.10,399.31 300.51,399.41 296.60,399.44 292.69,399.41 291.10,399.31 289.93,399.15 289.01,398.93 288.28,398.65 287.70,398.32 287.26,397.93 286.95,397.50 286.77,397.01 286.71,396.40 286.77,395.79 286.95,395.30 287.26,394.87 287.70,394.48 288.28,394.15 289.01,393.87 289.93,393.65 291.10,393.49 292.69,393.39 296.60,393.35 300.51,393.39 302.10,393.49 303.27,393.65 304.19,393.87 304.92,394.15 305.50,394.48 305.94,394.87 306.25,395.30 306.43,395.79" fill="#0a0a0a" filter="url(#bl)" transform="rotate(0.00 296.60 396.40)"/>
</g>
<rect x="233.50" y="388.60" width="73.90" height="14.20" fill="none" stroke="#ffffff" stroke-opacity="0.28" stroke-width="0.9"/>
<rect x="232.30" y="387.40" width="76.30" height="16.60" fill="none" stroke="#222" stroke-width="1.1"/>
<text x="238.20" y="413.30" font-size="7.6" text-anchor="start" fill="#1c1c1c" font-weight="bold" textLength="14.60" lengthAdjust="spacingAndGlyphs">0.62</text>
<text x="263.10" y="413.30" font-size="7.6" text-anchor="start" fill="#1c1c1c" font-weight="bold" textLength="15.10" lengthAdjust="spacingAndGlyphs">0.62</text>
<text x="287.10" y="413.30" font-size="7.6" text-anchor="start" fill="#1c1c1c" font-weight="bold" textLength="14.10" lengthAdjust="spacingAndGlyphs">0.61</text>
<rect x="233.30" y="417.30" width="76.50" height="17.20" fill="#bababa"/>
<g clip-path="url(#c19)">

<rect x="233.30" y="417.30" width="76.50" height="17.20" filter="url(#nz)" opacity="0.1"/>
<polygon points="257.20,426.50 257.14,426.92 256.95,427.26 256.62,427.56 256.16,427.82 255.55,428.05 254.78,428.25 253.81,428.40 252.58,428.51 250.91,428.58 246.80,428.60 242.69,428.58 241.02,428.51 239.79,428.40 238.82,428.25 238.05,428.05 237.44,427.82 236.98,427.56 236.65,427.26 236.46,426.92 236.40,426.50 236.46,426.08 236.65,425.74 236.98,425.44 237.44,425.18 238.05,424.95 238.82,424.75 239.79,424.60 241.02,424.49 242.69,424.42 246.80,424.40 250.91,424.42 252.58,424.49 253.81,424.60 254.78,424.75 255.55,424.95 256.16,425.18 256.62,425.44 256.95,425.74 257.14,426.08" fill="#0a0a0a" filter="url(#bl)" transform="rotate(0.00 246.80 426.50)"/>
<polygon points="263.08,426.80 263.05,426.97 262.98,427.10 262.85,427.22 262.67,427.33 262.43,427.42 262.13,427.50 261.75,427.56 261.27,427.60 260.61,427.63 259.00,427.64 257.39,427.63 256.73,427.60 256.25,427.56 255.87,427.50 255.57,427.42 255.33,427.33 255.15,427.22 255.02,427.10 254.95,426.97 254.92,426.80 254.95,426.63 255.02,426.50 255.15,426.38 255.33,426.27 255.57,426.18 255.87,426.10 256.25,426.04 256.73,426.00 257.39,425.97 259.00,425.96 260.61,425.97 261.27,426.00 261.75,426.04 262.13,426.10 262.43,426.18 262.67,426.27 262.85,426.38 262.98,426.50 263.05,426.63" fill="#0a0a0a" filter="url(#bls)" transform="rotate(0.00 259.00 426.80)"/>
<polygon points="280.89,426.90 280.83,427.32 280.65,427.66 280.34,427.96 279.90,428.22 279.33,428.45 278.60,428.65 277.68,428.80 276.52,428.91 274.94,428.98 271.05,429.00 267.16,428.98 265.58,428.91 264.42,428.80 263.50,428.65 262.77,428.45 262.20,428.22 261.76,427.96 261.45,427.66 261.27,427.32 261.21,426.90 261.27,426.48 261.45,426.14 261.76,425.84 262.20,425.58 262.77,425.35 263.50,425.15 264.42,425.00 265.58,424.89 267.16,424.82 271.05,424.80 274.94,424.82 276.52,424.89 277.68,425.00 278.60,425.15 279.33,425.35 279.90,425.58 280.34,425.84 280.65,426.14 280.83,426.48" fill="#0a0a0a" filter="url(#bl)" transform="rotate(0.00 271.05 426.90)"/>
<polygon points="286.07,426.70 286.05,426.87 285.98,427.00 285.87,427.12 285.71,427.23 285.50,427.32 285.24,427.40 284.91,427.46 284.48,427.50 283.91,427.53 282.50,427.54 281.09,427.53 280.52,427.50 280.09,427.46 279.76,427.40 279.50,427.32 279.29,427.23 279.13,427.12 279.02,427.00 278.95,426.87 278.93,426.70 278.95,426.53 279.02,426.40 279.13,426.28 279.29,426.17 279.50,426.08 279.76,426.00 280.09,425.94 280.52,425.90 281.09,425.87 282.50,425.86 283.91,425.87 284.48,425.90 284.91,425.94 285.24,426.00 285.50,426.08 285.71,426.17 285.87,426.28 285.98,426.40 286.05,426.53" fill="#0a0a0a" filter="url(#bls)" transform="rotate(0.00 282.50 426.70)"/>
<polygon points="307.33,426.20 307.26,426.58 307.04,426.88 306.67,427.15 306.15,427.39 305.46,427.60 304.59,427.77 303.50,427.91 302.12,428.01 300.24,428.07 295.60,428.09 290.96,428.07 289.08,428.01 287.70,427.91 286.61,427.77 285.74,427.60 285.05,427.39 284.53,427.15 284.16,426.88 283.94,426.58 283.87,426.20 283.94,425.82 284.16,425.52 284.53,425.25 285.05,425.01 285.74,424.80 286.61,424.63 287.70,424.49 289.08,424.39 290.96,424.33 295.60,424.31 300.24,424.33 302.12,424.39 303.50,424.49 304.59,424.63 305.46,424.80 306.15,425.01 306.67,425.25 307.04,425.52 307.26,425.82" fill="#0a0a0a" filter="url(#bl)" transform="rotate(0.00 295.60 426.20)"/>
</g>
<rect x="234.50" y="418.50" width="74.10" height="14.80" fill="none" stroke="#ffffff" stroke-opacity="0.28" stroke-width="0.9"/>
<rect x="233.30" y="417.30" width="76.50" height="17.20" fill="none" stroke="#222" stroke-width="1.1"/>
<text x="237.40" y="444.20" font-size="7.6" text-anchor="start" fill="#1c1c1c" stroke="#1c1c1c" stroke-width="0.12" textLength="14.60" lengthAdjust="spacingAndGlyphs">0.74</text>
<text x="263.00" y="444.20" font-size="7.6" text-anchor="start" fill="#1c1c1c" stroke="#1c1c1c" stroke-width="0.12" textLength="14.60" lengthAdjust="spacingAndGlyphs">0.74</text>
<text x="287.30" y="444.20" font-size="7.6" text-anchor="start" fill="#1c1c1c" stroke="#1c1c1c" stroke-width="0.12" textLength="14.60" lengthAdjust="spacingAndGlyphs">0.72</text>
<line x1="87.70" y1="451.70" x2="297.30" y2="451.70" stroke="#444" stroke-width="1.1"/>
<text x="146.05" y="466.50" font-size="10.5" text-anchor="start" fill="#1c1c1c" stroke="#1c1c1c" stroke-width="0.12" textLength="88.20" lengthAdjust="spacingAndGlyphs">p &lt;0.05 **, &lt;0.001***</text>
<text x="147.35" y="486.10" font-size="10" text-anchor="start" fill="#1c1c1c" stroke="#1c1c1c" stroke-width="0.12" textLength="11.90" lengthAdjust="spacingAndGlyphs">(c)</text>
<rect x="375.47" y="366.35" width="9.2" height="28.85" fill="#050505"/>
<rect x="387.46" y="366.75" width="8.399999999999999" height="28.45" fill="#e0410b" stroke="#3d1405" stroke-width="0.8"/>
<line x1="416.90" y1="353.51" x2="416.90" y2="361.16" stroke="#333" stroke-width="1.1"/>
<line x1="414.40" y1="353.51" x2="419.40" y2="353.51" stroke="#333" stroke-width="1.1"/>
<rect x="412.30" y="361.16" width="9.2" height="34.04" fill="#050505"/>
<rect x="424.29" y="364.73" width="8.399999999999999" height="30.47" fill="#e0410b" stroke="#3d1405" stroke-width="0.8"/>
<line x1="428.50" y1="362.31" x2="428.50" y2="366.35" stroke="#333" stroke-width="1.1"/>
<line x1="426.00" y1="362.31" x2="431.00" y2="362.31" stroke="#333" stroke-width="1.1"/>
<line x1="426.00" y1="366.35" x2="431.00" y2="366.35" stroke="#333" stroke-width="1.1"/>
<line x1="453.73" y1="350.48" x2="453.73" y2="360.58" stroke="#333" stroke-width="1.1"/>
<line x1="451.23" y1="350.48" x2="456.23" y2="350.48" stroke="#333" stroke-width="1.1"/>
<rect x="449.12" y="360.58" width="9.2" height="34.62" fill="#050505"/>
<rect x="461.12" y="342.80" width="8.399999999999999" height="52.40" fill="#e0410b" stroke="#3d1405" stroke-width="0.8"/>
<line x1="465.32" y1="334.33" x2="465.32" y2="350.48" stroke="#333" stroke-width="1.1"/>
<line x1="462.82" y1="334.33" x2="467.82" y2="334.33" stroke="#333" stroke-width="1.1"/>
<line x1="462.82" y1="350.48" x2="467.82" y2="350.48" stroke="#333" stroke-width="1.1"/>
<line x1="490.56" y1="348.61" x2="490.56" y2="357.12" stroke="#333" stroke-width="1.1"/>
<line x1="488.06" y1="348.61" x2="493.06" y2="348.61" stroke="#333" stroke-width="1.1"/>
<rect x="485.95" y="357.12" width="9.2" height="38.08" fill="#050505"/>
<rect x="497.95" y="260.29" width="8.399999999999999" height="134.91" fill="#e0410b" stroke="#3d1405" stroke-width="0.8"/>
<line x1="502.15" y1="243.16" x2="502.15" y2="276.63" stroke="#333" stroke-width="1.1"/>
<line x1="499.65" y1="243.16" x2="504.65" y2="243.16" stroke="#333" stroke-width="1.1"/>
<line x1="499.65" y1="276.63" x2="504.65" y2="276.63" stroke="#333" stroke-width="1.1"/>
<line x1="527.38" y1="329.42" x2="527.38" y2="347.31" stroke="#333" stroke-width="1.1"/>
<line x1="524.88" y1="329.42" x2="529.88" y2="329.42" stroke="#333" stroke-width="1.1"/>
<rect x="522.78" y="347.31" width="9.2" height="47.89" fill="#050505"/>
<rect x="534.78" y="214.42" width="8.399999999999999" height="180.78" fill="#e0410b" stroke="#3d1405" stroke-width="0.8"/>
<line x1="538.99" y1="189.50" x2="538.99" y2="238.54" stroke="#333" stroke-width="1.1"/>
<line x1="536.49" y1="189.50" x2="541.49" y2="189.50" stroke="#333" stroke-width="1.1"/>
<line x1="536.49" y1="238.54" x2="541.49" y2="238.54" stroke="#333" stroke-width="1.1"/>
<line x1="564.21" y1="316.73" x2="564.21" y2="333.17" stroke="#333" stroke-width="1.1"/>
<line x1="561.71" y1="316.73" x2="566.71" y2="316.73" stroke="#333" stroke-width="1.1"/>
<rect x="559.61" y="333.17" width="9.2" height="62.03" fill="#050505"/>
<rect x="571.61" y="229.71" width="8.399999999999999" height="165.49" fill="#e0410b" stroke="#3d1405" stroke-width="0.8"/>
<line x1="575.81" y1="214.31" x2="575.81" y2="244.31" stroke="#333" stroke-width="1.1"/>
<line x1="573.31" y1="214.31" x2="578.31" y2="214.31" stroke="#333" stroke-width="1.1"/>
<line x1="573.31" y1="244.31" x2="578.31" y2="244.31" stroke="#333" stroke-width="1.1"/>
<line x1="601.04" y1="277.49" x2="601.04" y2="295.09" stroke="#333" stroke-width="1.1"/>
<line x1="598.54" y1="277.49" x2="603.54" y2="277.49" stroke="#333" stroke-width="1.1"/>
<rect x="596.44" y="295.09" width="9.2" height="100.11" fill="#050505"/>
<rect x="608.44" y="227.69" width="8.399999999999999" height="167.51" fill="#e0410b" stroke="#3d1405" stroke-width="0.8"/>
<line x1="612.64" y1="217.77" x2="612.64" y2="236.81" stroke="#333" stroke-width="1.1"/>
<line x1="610.14" y1="217.77" x2="615.14" y2="217.77" stroke="#333" stroke-width="1.1"/>
<line x1="610.14" y1="236.81" x2="615.14" y2="236.81" stroke="#333" stroke-width="1.1"/>
<line x1="367.15" y1="163.80" x2="367.15" y2="395.80" stroke="#3a3a3a" stroke-width="1.4"/>
<line x1="366.55" y1="395.20" x2="625.20" y2="395.20" stroke="#3a3a3a" stroke-width="1.3"/>
<line x1="361.35" y1="395.20" x2="367.15" y2="395.20" stroke="#3a3a3a" stroke-width="1.2"/>
<text x="356.95" y="398.10" font-size="10.5" text-anchor="end" fill="#1c1c1c" stroke="#1c1c1c" stroke-width="0.12" textLength="5.80" lengthAdjust="spacingAndGlyphs">0</text>
<line x1="361.35" y1="366.35" x2="367.15" y2="366.35" stroke="#3a3a3a" stroke-width="1.2"/>
<text x="356.95" y="369.25" font-size="10.5" text-anchor="end" fill="#1c1c1c" stroke="#1c1c1c" stroke-width="0.12" textLength="16.20" lengthAdjust="spacingAndGlyphs">100</text>
<line x1="361.35" y1="337.50" x2="367.15" y2="337.50" stroke="#3a3a3a" stroke-width="1.2"/>
<text x="356.95" y="340.40" font-size="10.5" text-anchor="end" fill="#1c1c1c" stroke="#1c1c1c" stroke-width="0.12" textLength="16.20" lengthAdjust="spacingAndGlyphs">200</text>
<line x1="361.35" y1="308.65" x2="367.15" y2="308.65" stroke="#3a3a3a" stroke-width="1.2"/>
<text x="356.95" y="311.55" font-size="10.5" text-anchor="end" fill="#1c1c1c" stroke="#1c1c1c" stroke-width="0.12" textLength="16.20" lengthAdjust="spacingAndGlyphs">300</text>
<line x1="361.35" y1="279.80" x2="367.15" y2="279.80" stroke="#3a3a3a" stroke-width="1.2"/>
<text x="356.95" y="282.70" font-size="10.5" text-anchor="end" fill="#1c1c1c" stroke="#1c1c1c" stroke-width="0.12" textLength="16.20" lengthAdjust="spacingAndGlyphs">400</text>
<line x1="361.35" y1="250.95" x2="367.15" y2="250.95" stroke="#3a3a3a" stroke-width="1.2"/>
<text x="356.95" y="253.85" font-size="10.5" text-anchor="end" fill="#1c1c1c" stroke="#1c1c1c" stroke-width="0.12" textLength="16.20" lengthAdjust="spacingAndGlyphs">500</text>
<line x1="361.35" y1="222.10" x2="367.15" y2="222.10" stroke="#3a3a3a" stroke-width="1.2"/>
<text x="356.95" y="225.00" font-size="10.5" text-anchor="end" fill="#1c1c1c" stroke="#1c1c1c" stroke-width="0.12" textLength="16.20" lengthAdjust="spacingAndGlyphs">600</text>
<line x1="361.35" y1="193.25" x2="367.15" y2="193.25" stroke="#3a3a3a" stroke-width="1.2"/>
<text x="356.95" y="196.15" font-size="10.5" text-anchor="end" fill="#1c1c1c" stroke="#1c1c1c" stroke-width="0.12" textLength="16.20" lengthAdjust="spacingAndGlyphs">700</text>
<line x1="361.35" y1="164.40" x2="367.15" y2="164.40" stroke="#3a3a3a" stroke-width="1.2"/>
<text x="356.95" y="167.30" font-size="10.5" text-anchor="end" fill="#1c1c1c" stroke="#1c1c1c" stroke-width="0.12" textLength="16.20" lengthAdjust="spacingAndGlyphs">800</text>
<line x1="367.15" y1="395.20" x2="367.15" y2="400.80" stroke="#3a3a3a" stroke-width="1.2"/>
<line x1="403.98" y1="395.20" x2="403.98" y2="400.80" stroke="#3a3a3a" stroke-width="1.2"/>
<line x1="440.81" y1="395.20" x2="440.81" y2="400.80" stroke="#3a3a3a" stroke-width="1.2"/>
<line x1="477.64" y1="395.20" x2="477.64" y2="400.80" stroke="#3a3a3a" stroke-width="1.2"/>
<line x1="514.47" y1="395.20" x2="514.47" y2="400.80" stroke="#3a3a3a" stroke-width="1.2"/>
<line x1="551.30" y1="395.20" x2="551.30" y2="400.80" stroke="#3a3a3a" stroke-width="1.2"/>
<line x1="588.13" y1="395.20" x2="588.13" y2="400.80" stroke="#3a3a3a" stroke-width="1.2"/>
<line x1="624.96" y1="395.20" x2="624.96" y2="400.80" stroke="#3a3a3a" stroke-width="1.2"/>
<text x="385.56" y="412.70" font-size="10.5" text-anchor="middle" fill="#1c1c1c" stroke="#1c1c1c" stroke-width="0.12">0</text>
<text x="422.39" y="412.70" font-size="10.5" text-anchor="middle" fill="#1c1c1c" stroke="#1c1c1c" stroke-width="0.12">1</text>
<text x="459.22" y="412.70" font-size="10.5" text-anchor="middle" fill="#1c1c1c" stroke="#1c1c1c" stroke-width="0.12">5</text>
<text x="496.05" y="412.70" font-size="10.5" text-anchor="middle" fill="#1c1c1c" stroke="#1c1c1c" stroke-width="0.12">10</text>
<text x="532.88" y="412.70" font-size="10.5" text-anchor="middle" fill="#1c1c1c" stroke="#1c1c1c" stroke-width="0.12">15</text>
<text x="569.71" y="412.70" font-size="10.5" text-anchor="middle" fill="#1c1c1c" stroke="#1c1c1c" stroke-width="0.12">20</text>
<text x="606.54" y="412.70" font-size="10.5" text-anchor="middle" fill="#1c1c1c" stroke="#1c1c1c" stroke-width="0.12">30</text>
<text x="437.35" y="428.80" font-size="10.5" text-anchor="start" fill="#1c1c1c" stroke="#1c1c1c" stroke-width="0.12" textLength="117.90" lengthAdjust="spacingAndGlyphs"><tspan font-style="italic">α</tspan>-Mg Concentration (<tspan font-style="italic">μ</tspan>M)</text>
<text transform="translate(332.60,282.30) rotate(-90)" font-size="10.5" text-anchor="middle" fill="#1c1c1c" stroke="#1c1c1c" stroke-width="0.12" textLength="84.30" lengthAdjust="spacingAndGlyphs">% Caspase Activity</text>
<text x="386.75" y="177.40" font-size="10.5" text-anchor="start" fill="#1c1c1c" stroke="#1c1c1c" stroke-width="0.12" textLength="47.80" lengthAdjust="spacingAndGlyphs">**: P&lt; 0.05</text>
<path d="M450.40 326.20 V321.90 Q450.40 320.30 452.00 320.30 H467.90 Q469.50 320.30 469.50 321.90 V326.20" fill="none" stroke="#333" stroke-width="1"/>
<text x="459.95" y="319.90" font-size="10" text-anchor="middle" fill="#1c1c1c" stroke="#1c1c1c" stroke-width="0.12">**</text>
<path d="M487.70 235.80 V231.30 Q487.70 229.70 489.30 229.70 H504.80 Q506.40 229.70 506.40 231.30 V235.80" fill="none" stroke="#333" stroke-width="1"/>
<text x="497.05" y="229.20" font-size="10" text-anchor="middle" fill="#1c1c1c" stroke="#1c1c1c" stroke-width="0.12">**</text>
<path d="M524.30 184.60 V177.90 Q524.30 176.30 525.90 176.30 H541.80 Q543.40 176.30 543.40 177.90 V184.60" fill="none" stroke="#333" stroke-width="1"/>
<text x="533.85" y="176.00" font-size="10" text-anchor="middle" fill="#1c1c1c" stroke="#1c1c1c" stroke-width="0.12">**</text>
<path d="M562.40 207.60 V201.40 Q562.40 199.80 564.00 199.80 H578.20 Q579.80 199.80 579.80 201.40 V207.60" fill="none" stroke="#333" stroke-width="1"/>
<text x="571.10" y="199.20" font-size="10" text-anchor="middle" fill="#1c1c1c" stroke="#1c1c1c" stroke-width="0.12">**</text>
<path d="M598.90 211.40 V204.80 Q598.90 203.20 600.50 203.20 H615.70 Q617.30 203.20 617.30 204.80 V211.40" fill="none" stroke="#333" stroke-width="1"/>
<text x="608.10" y="202.60" font-size="10" text-anchor="middle" fill="#1c1c1c" stroke="#1c1c1c" stroke-width="0.12">**</text>
<rect x="366.6" y="445.8" width="8.2" height="8.1" fill="#050505"/>
<rect x="367.0" y="460.3" width="7.4" height="7.4" fill="#e0410b" stroke="#3d1405" stroke-width="0.8"/>
<text x="377.85" y="452.60" font-size="11" text-anchor="start" fill="#1c1c1c" stroke="#1c1c1c" stroke-width="0.12" textLength="30.40" lengthAdjust="spacingAndGlyphs">Vector</text>
<text x="377.85" y="466.40" font-size="11" text-anchor="start" fill="#1c1c1c" stroke="#1c1c1c" stroke-width="0.12" textLength="84.10" lengthAdjust="spacingAndGlyphs">HA-MOAP-1 (C1)</text>
<text x="472.40" y="486.20" font-size="10" text-anchor="middle" fill="#1c1c1c" stroke="#1c1c1c" stroke-width="0.12" textLength="12.80" lengthAdjust="spacingAndGlyphs">(d)</text>
<text x="264.25" y="508.40" font-size="10.5" text-anchor="end" fill="#1c1c1c" stroke="#1c1c1c" stroke-width="0.12" textLength="25.50" lengthAdjust="spacingAndGlyphs">DAYS</text>
<text x="283.70" y="508.40" font-size="10.5" text-anchor="middle" fill="#1c1c1c" stroke="#1c1c1c" stroke-width="0.12">0</text>
<text x="315.60" y="508.40" font-size="10.5" text-anchor="middle" fill="#1c1c1c" stroke="#1c1c1c" stroke-width="0.12">1</text>
<text x="347.10" y="508.40" font-size="10.5" text-anchor="middle" fill="#1c1c1c" stroke="#1c1c1c" stroke-width="0.12">2</text>
<text x="379.40" y="508.40" font-size="10.5" text-anchor="middle" fill="#1c1c1c" stroke="#1c1c1c" stroke-width="0.12">3</text>
<text x="264.25" y="527.80" font-size="11" text-anchor="end" fill="#1c1c1c" stroke="#1c1c1c" stroke-width="0.12" textLength="25.50" lengthAdjust="spacingAndGlyphs">Blank</text>
<text x="264.25" y="550.10" font-size="11" text-anchor="end" fill="#1c1c1c" stroke="#1c1c1c" stroke-width="0.12" textLength="61.80" lengthAdjust="spacingAndGlyphs"><tspan font-style="italic">α</tspan>-Mg (30<tspan font-style="italic">μ</tspan>M)</text>
<text x="264.25" y="587.60" font-size="11" text-anchor="end" fill="#1c1c1c" stroke="#1c1c1c" stroke-width="0.12" textLength="25.50" lengthAdjust="spacingAndGlyphs">Blank</text>
<text x="264.25" y="609.70" font-size="11" text-anchor="end" fill="#1c1c1c" stroke="#1c1c1c" stroke-width="0.12" textLength="61.80" lengthAdjust="spacingAndGlyphs"><tspan font-style="italic">α</tspan>-Mg (30<tspan font-style="italic">μ</tspan>M)</text>
<text x="264.25" y="650.60" font-size="11" text-anchor="end" fill="#1c1c1c" stroke="#1c1c1c" stroke-width="0.12" textLength="25.50" lengthAdjust="spacingAndGlyphs">Blank</text>
<text x="264.25" y="672.40" font-size="11" text-anchor="end" fill="#1c1c1c" stroke="#1c1c1c" stroke-width="0.12" textLength="61.80" lengthAdjust="spacingAndGlyphs"><tspan font-style="italic">α</tspan>-Mg (30<tspan font-style="italic">μ</tspan>M)</text>
<text transform="translate(406.60,538.30) rotate(-90)" font-size="10.5" text-anchor="middle" fill="#1c1c1c" stroke="#1c1c1c" stroke-width="0.12" textLength="29.20" lengthAdjust="spacingAndGlyphs">Vector</text>
<text transform="translate(407.00,597.90) rotate(-90)" font-size="10.5" text-anchor="middle" fill="#1c1c1c" stroke="#1c1c1c" stroke-width="0.12" textLength="53.40" lengthAdjust="spacingAndGlyphs">HA-MOAP1</text>
<text transform="translate(419.40,597.30) rotate(-90)" font-size="10.5" text-anchor="middle" fill="#1c1c1c" stroke="#1c1c1c" stroke-width="0.12" textLength="19.20" lengthAdjust="spacingAndGlyphs">(C1)</text>
<text transform="translate(407.00,660.30) rotate(-90)" font-size="10.5" text-anchor="middle" fill="#1c1c1c" stroke="#1c1c1c" stroke-width="0.12" textLength="58.00" lengthAdjust="spacingAndGlyphs">Myc-BCL-XL</text>
<text transform="translate(419.40,660.00) rotate(-90)" font-size="10.5" text-anchor="middle" fill="#1c1c1c" stroke="#1c1c1c" stroke-width="0.12" textLength="18.80" lengthAdjust="spacingAndGlyphs">(C5)</text>
<rect x="270.30" y="514.10" width="27.90" height="21.40" fill="#c4c4c4"/>
<g clip-path="url(#c20)">
<ellipse cx="284.85" cy="525.00" rx="11.50" ry="9.20" fill="#4a1610" filter="url(#cb)" transform="rotate(0 284.85 525.00)"/>
<ellipse cx="284.85" cy="525.00" rx="10.50" ry="8.20" fill="#0e0304" filter="url(#cb)" transform="rotate(0 284.85 525.00)"/>
<ellipse cx="289.85" cy="524.00" rx="3.00" ry="4.00" fill="#2a0a0a" filter="url(#cb2)" transform="rotate(0 284.85 525.00)"/>

</g>
<rect x="270.30" y="514.10" width="27.90" height="21.40" fill="none" stroke="#0a0a0a" stroke-width="1.4"/>
<rect x="302.30" y="514.10" width="28.60" height="21.90" fill="#c4c4c4"/>
<g clip-path="url(#c21)">
<ellipse cx="317.30" cy="524.80" rx="12.50" ry="8.70" fill="#44140f" filter="url(#cb)" transform="rotate(0 317.30 524.80)"/>
<ellipse cx="317.30" cy="524.80" rx="11.50" ry="7.70" fill="#0e0304" filter="url(#cb)" transform="rotate(0 317.30 524.80)"/>

</g>
<rect x="302.30" y="514.10" width="28.60" height="21.90" fill="none" stroke="#0a0a0a" stroke-width="1.4"/>
<rect x="333.20" y="514.00" width="28.70" height="21.90" fill="#c4c4c4"/>
<g clip-path="url(#c22)">
<ellipse cx="346.95" cy="524.80" rx="12.15" ry="9.50" fill="#481612" filter="url(#cb)" transform="rotate(0 346.95 524.80)"/>
<ellipse cx="346.95" cy="524.80" rx="11.25" ry="8.60" fill="#0f0406" filter="url(#cb)" transform="rotate(0 346.95 524.80)"/>
<ellipse cx="339.95" cy="524.80" rx="2.00" ry="4.00" fill="#2a0c0c" filter="url(#cb2)" transform="rotate(0 346.95 524.80)"/>

</g>
<rect x="333.20" y="514.00" width="28.70" height="21.90" fill="none" stroke="#0a0a0a" stroke-width="1.4"/>
<rect x="366.20" y="514.60" width="27.70" height="21.80" fill="#c4c4c4"/>
<g clip-path="url(#c23)">
<ellipse cx="381.50" cy="526.30" rx="11.80" ry="9.00" fill="#481612" filter="url(#cb)" transform="rotate(0 381.50 526.30)"/>
<ellipse cx="381.50" cy="526.30" rx="10.90" ry="8.10" fill="#0f0406" filter="url(#cb)" transform="rotate(0 381.50 526.30)"/>
<ellipse cx="375.50" cy="527.30" rx="2.00" ry="3.50" fill="#2a0c0c" filter="url(#cb2)" transform="rotate(0 381.50 526.30)"/>

</g>
<rect x="366.20" y="514.60" width="27.70" height="21.80" fill="none" stroke="#0a0a0a" stroke-width="1.4"/>
<rect x="270.20" y="538.10" width="28.00" height="20.40" fill="#fefefe"/>
<g clip-path="url(#c24)">
<ellipse cx="284.35" cy="546.60" rx="10.05" ry="7.20" fill="#9a4a28" filter="url(#cb)" transform="rotate(0 284.35 546.60)"/>
<ellipse cx="284.35" cy="546.60" rx="8.85" ry="6.00" fill="#220a06" filter="url(#cb)" transform="rotate(0 284.35 546.60)"/>
<ellipse cx="284.35" cy="543.20" rx="5.50" ry="1.30" fill="#4a2010" filter="url(#cb2)" transform="rotate(0 284.35 546.60)"/>
<ellipse cx="284.35" cy="546.60" rx="9.75" ry="6.90" fill="#000" filter="url(#tx)" opacity="0.3" transform="rotate(0 284.35 546.60)"/>

</g>
<rect x="270.20" y="538.10" width="28.00" height="20.40" fill="none" stroke="#0a0a0a" stroke-width="1.4"/>
<rect x="302.30" y="538.10" width="28.60" height="20.40" fill="#fefefe"/>
<g clip-path="url(#c25)">
<ellipse cx="318.60" cy="547.15" rx="9.00" ry="6.95" fill="#84301f" filter="url(#cb)" transform="rotate(0 318.60 547.15)"/>
<ellipse cx="318.60" cy="547.15" rx="7.80" ry="5.75" fill="#1e0909" filter="url(#cb)" transform="rotate(0 318.60 547.15)"/>
<ellipse cx="318.60" cy="547.15" rx="8.70" ry="6.65" fill="#000" filter="url(#tx)" opacity="0.3" transform="rotate(0 318.60 547.15)"/>
<circle cx="305.5" cy="540.3" r="0.9" fill="#8a3a3a"/>
</g>
<rect x="302.30" y="538.10" width="28.60" height="20.40" fill="none" stroke="#0a0a0a" stroke-width="1.4"/>
<rect x="333.20" y="538.10" width="28.70" height="19.50" fill="#fbfbfe"/>
<g clip-path="url(#c26)"><circle cx="344.0" cy="551.1" r="0.45" fill="#8a7a90"/><circle cx="348.1" cy="545.2" r="0.42" fill="#b0a8c8"/><circle cx="347.2" cy="550.5" r="0.38" fill="#6a5a78"/><circle cx="353.7" cy="551.1" r="0.50" fill="#8a7a90"/><circle cx="356.4" cy="545.4" r="0.42" fill="#8a7a90"/><circle cx="338.8" cy="545.0" r="0.54" fill="#8a7a90"/><circle cx="341.7" cy="546.6" r="0.38" fill="#b0a8c8"/><circle cx="351.8" cy="551.4" r="0.49" fill="#6a5a78"/><circle cx="354.4" cy="552.1" r="0.31" fill="#8a7a90"/><circle cx="343.1" cy="547.1" r="0.27" fill="#6a5a78"/><circle cx="336.5" cy="548.0" r="0.48" fill="#7a88b0"/><circle cx="338.5" cy="544.5" r="0.34" fill="#6a5a78"/><circle cx="344.2" cy="543.3" r="0.42" fill="#b0a8c8"/><circle cx="338.4" cy="548.0" r="0.38" fill="#b0a8c8"/><circle cx="350.9" cy="547.4" r="0.38" fill="#a090a8"/><circle cx="351.8" cy="553.2" r="0.26" fill="#8a7a90"/><circle cx="347.2" cy="540.6" r="0.51" fill="#a090a8"/><circle cx="342.0" cy="552.5" r="0.40" fill="#7a88b0"/><circle cx="350.1" cy="549.0" r="0.33" fill="#8a7a90"/><circle cx="356.8" cy="550.8" r="0.44" fill="#7a88b0"/><circle cx="344.5" cy="553.6" r="0.45" fill="#8a7a90"/><circle cx="353.8" cy="545.7" r="0.43" fill="#7a88b0"/><circle cx="357.3" cy="550.8" r="0.29" fill="#6a5a78"/><circle cx="335.9" cy="553.2" r="0.40" fill="#6a5a78"/><circle cx="336.8" cy="550.0" r="0.52" fill="#7a88b0"/><circle cx="351.0" cy="544.0" r="0.37" fill="#a090a8"/><circle cx="342.9" cy="542.5" r="0.32" fill="#8a7a90"/><circle cx="349.2" cy="551.9" r="0.32" fill="#7a88b0"/><circle cx="349.1" cy="544.3" r="0.33" fill="#6a5a78"/><circle cx="339.1" cy="550.6" r="0.42" fill="#6a5a78"/><circle cx="342.8" cy="541.5" r="0.44" fill="#8a7a90"/><circle cx="334.2" cy="550.2" r="0.54" fill="#b0a8c8"/><circle cx="339.6" cy="551.6" r="0.28" fill="#7a88b0"/><circle cx="349.5" cy="548.7" r="0.31" fill="#6a5a78"/><circle cx="354.4" cy="552.5" r="0.28" fill="#b0a8c8"/><circle cx="348.8" cy="550.3" r="0.36" fill="#8a7a90"/><circle cx="351.9" cy="549.7" r="0.36" fill="#a090a8"/><circle cx="356.4" cy="545.8" r="0.39" fill="#8a7a90"/><circle cx="354.1" cy="540.1" r="0.39" fill="#7a88b0"/><circle cx="344.4" cy="551.1" r="0.47" fill="#a090a8"/><circle cx="335.2" cy="548.9" r="0.40" fill="#6a5a78"/><circle cx="355.7" cy="545.7" r="0.29" fill="#b0a8c8"/><circle cx="356.4" cy="543.6" r="0.34" fill="#8a7a90"/><circle cx="344.0" cy="543.2" r="0.36" fill="#6a5a78"/><circle cx="342.4" cy="551.3" r="0.41" fill="#b0a8c8"/><circle cx="343.2" cy="551.7" r="0.49" fill="#6a5a78"/><circle cx="350.5" cy="539.7" r="0.47" fill="#6a5a78"/><circle cx="349.2" cy="554.1" r="0.47" fill="#8a7a90"/><circle cx="348.6" cy="541.5" r="0.31" fill="#b0a8c8"/><circle cx="355.0" cy="546.1" r="0.53" fill="#a090a8"/><circle cx="354.1" cy="546.2" r="0.32" fill="#6a5a78"/><circle cx="338.6" cy="548.8" r="0.39" fill="#b0a8c8"/><circle cx="351.3" cy="542.3" r="0.45" fill="#8a7a90"/><circle cx="348.7" cy="545.0" r="0.37" fill="#6a5a78"/><circle cx="340.7" cy="548.4" r="0.49" fill="#a090a8"/><circle cx="357.5" cy="552.6" r="0.47" fill="#7a88b0"/><circle cx="335.6" cy="553.2" r="0.47" fill="#6a5a78"/><circle cx="348.5" cy="547.7" r="0.43" fill="#7a88b0"/><circle cx="348.1" cy="544.4" r="0.50" fill="#7a88b0"/><circle cx="341.9" cy="543.1" r="0.41" fill="#6a5a78"/><circle cx="358.3" cy="548.9" r="0.47" fill="#8a7a90"/><circle cx="333.4" cy="546.3" r="0.38" fill="#6a5a78"/><circle cx="349.2" cy="543.9" r="0.33" fill="#a090a8"/><circle cx="334.5" cy="547.7" r="0.35" fill="#b0a8c8"/><circle cx="342.0" cy="549.5" r="0.52" fill="#a090a8"/><circle cx="355.1" cy="543.2" r="0.49" fill="#b0a8c8"/><circle cx="334.9" cy="552.2" r="0.40" fill="#b0a8c8"/><circle cx="351.9" cy="553.3" r="0.51" fill="#6a5a78"/><circle cx="337.1" cy="542.5" r="0.29" fill="#6a5a78"/><circle cx="335.0" cy="549.1" r="0.42" fill="#a090a8"/><circle cx="342.2" cy="541.5" r="0.39" fill="#8a7a90"/><circle cx="348.7" cy="546.3" r="0.31" fill="#8a7a90"/><circle cx="347.6" cy="541.1" r="0.42" fill="#8a7a90"/><circle cx="336.4" cy="550.4" r="0.40" fill="#b0a8c8"/><circle cx="348.5" cy="552.6" r="0.40" fill="#7a88b0"/><circle cx="339.6" cy="547.6" r="0.41" fill="#a090a8"/><circle cx="357.6" cy="543.6" r="0.31" fill="#7a88b0"/><circle cx="349.4" cy="550.3" r="0.38" fill="#8a7a90"/><circle cx="342.1" cy="542.3" r="0.31" fill="#a090a8"/><circle cx="349.0" cy="539.0" r="0.30" fill="#a090a8"/><circle cx="354.2" cy="554.8" r="0.54" fill="#6a5a78"/><circle cx="346.2" cy="544.9" r="0.52" fill="#6a5a78"/><circle cx="358.6" cy="547.2" r="0.30" fill="#7a88b0"/><circle cx="354.9" cy="547.6" r="0.38" fill="#a090a8"/><circle cx="341.5" cy="555.1" r="0.26" fill="#b0a8c8"/><circle cx="335.4" cy="549.8" r="0.37" fill="#b0a8c8"/><circle cx="339.4" cy="543.0" r="0.27" fill="#6a5a78"/><circle cx="350.6" cy="547.3" r="0.33" fill="#8a7a90"/><circle cx="351.1" cy="545.5" r="0.48" fill="#7a88b0"/><circle cx="352.8" cy="541.5" r="0.53" fill="#7a88b0"/>
<ellipse cx="346.30" cy="547.60" rx="9.20" ry="6.90" fill="#6e4e52" filter="url(#cb)" transform="rotate(0 346.30 547.60)"/>
<ellipse cx="346.30" cy="547.60" rx="8.20" ry="5.90" fill="#4e3234" filter="url(#cb)" transform="rotate(0 346.30 547.60)"/>
<ellipse cx="346.30" cy="547.60" rx="8.90" ry="6.60" fill="#000" filter="url(#tx)" opacity="0.55" transform="rotate(0 346.30 547.60)"/>
<ellipse cx="346.30" cy="547.60" rx="8.30" ry="6.00" fill="#000" filter="url(#txw)" opacity="0.42" transform="rotate(0 346.30 547.60)"/>
<circle cx="350.8" cy="552.1" r="0.45" fill="#8a6a70"/><circle cx="347.9" cy="548.3" r="0.49" fill="#2a1c22"/><circle cx="349.6" cy="545.8" r="0.26" fill="#3a2228"/><circle cx="347.0" cy="546.0" r="0.55" fill="#3a2228"/><circle cx="346.0" cy="549.6" r="0.25" fill="#9a8aa8"/><circle cx="339.6" cy="550.3" r="0.47" fill="#3a2228"/><circle cx="342.4" cy="547.1" r="0.29" fill="#4a2c30"/><circle cx="346.0" cy="550.1" r="0.58" fill="#8a6a70"/><circle cx="342.7" cy="547.1" r="0.41" fill="#4a2c30"/><circle cx="345.4" cy="552.8" r="0.60" fill="#3a2228"/><circle cx="353.1" cy="548.1" r="0.44" fill="#4a2c30"/><circle cx="342.4" cy="547.3" r="0.41" fill="#2a1c22"/><circle cx="343.0" cy="544.0" r="0.56" fill="#9a8aa8"/><circle cx="345.0" cy="550.1" r="0.33" fill="#4a2c30"/><circle cx="349.6" cy="543.4" r="0.47" fill="#2a1c22"/><circle cx="354.2" cy="547.2" r="0.54" fill="#3a2228"/><circle cx="352.5" cy="549.7" r="0.34" fill="#4a2c30"/><circle cx="352.4" cy="549.2" r="0.38" fill="#9a8aa8"/><circle cx="344.3" cy="544.9" r="0.33" fill="#8a6a70"/><circle cx="349.6" cy="548.3" r="0.34" fill="#3a2228"/><circle cx="345.6" cy="553.3" r="0.59" fill="#9a8aa8"/><circle cx="345.6" cy="548.6" r="0.56" fill="#4a2c30"/><circle cx="346.1" cy="547.7" r="0.38" fill="#2a1c22"/><circle cx="345.1" cy="552.2" r="0.34" fill="#3a2228"/><circle cx="352.4" cy="550.4" r="0.30" fill="#9a8aa8"/><circle cx="347.5" cy="547.8" r="0.36" fill="#4a2c30"/><circle cx="353.1" cy="550.5" r="0.55" fill="#4a2c30"/><circle cx="342.6" cy="543.5" r="0.56" fill="#2a1c22"/><circle cx="346.9" cy="542.7" r="0.42" fill="#8a6a70"/><circle cx="345.3" cy="543.0" r="0.27" fill="#9a8aa8"/><circle cx="341.5" cy="544.0" r="0.53" fill="#4a2c30"/><circle cx="352.2" cy="544.9" r="0.45" fill="#3a2228"/><circle cx="349.1" cy="543.7" r="0.56" fill="#4a2c30"/><circle cx="347.7" cy="548.2" r="0.47" fill="#3a2228"/><circle cx="342.5" cy="550.3" r="0.27" fill="#3a2228"/><circle cx="341.7" cy="544.2" r="0.42" fill="#3a2228"/><circle cx="344.3" cy="548.0" r="0.58" fill="#9a8aa8"/><circle cx="351.2" cy="549.9" r="0.51" fill="#2a1c22"/><circle cx="346.3" cy="549.2" r="0.34" fill="#4a2c30"/><circle cx="347.1" cy="552.2" r="0.41" fill="#2a1c22"/><circle cx="353.1" cy="550.2" r="0.35" fill="#3a2228"/><circle cx="341.5" cy="544.5" r="0.28" fill="#4a2c30"/><circle cx="343.1" cy="551.7" r="0.49" fill="#9a8aa8"/><circle cx="345.5" cy="547.3" r="0.27" fill="#8a6a70"/><circle cx="348.8" cy="547.3" r="0.33" fill="#2a1c22"/><circle cx="344.8" cy="551.6" r="0.41" fill="#2a1c22"/><circle cx="347.2" cy="541.9" r="0.44" fill="#8a6a70"/><circle cx="354.0" cy="546.8" r="0.26" fill="#2a1c22"/><circle cx="351.3" cy="549.5" r="0.60" fill="#8a6a70"/><circle cx="340.5" cy="551.2" r="0.58" fill="#3a2228"/><circle cx="343.7" cy="546.5" r="0.43" fill="#8a6a70"/><circle cx="351.2" cy="551.5" r="0.43" fill="#3a2228"/><circle cx="345.2" cy="544.9" r="0.56" fill="#2a1c22"/><circle cx="343.8" cy="549.0" r="0.58" fill="#2a1c22"/><circle cx="340.6" cy="550.4" r="0.40" fill="#2a1c22"/>
</g>
<rect x="333.20" y="538.10" width="28.70" height="19.50" fill="none" stroke="#0a0a0a" stroke-width="1.4"/>
<rect x="365.80" y="538.60" width="28.10" height="19.70" fill="#fbfbfe"/>
<g clip-path="url(#c27)"><circle cx="373.8" cy="556.5" r="0.25" fill="#9088b8"/><circle cx="381.6" cy="545.4" r="0.53" fill="#a8a4cc"/><circle cx="391.0" cy="548.9" r="0.33" fill="#7a7ab0"/><circle cx="368.1" cy="554.4" r="0.43" fill="#9088b8"/><circle cx="389.9" cy="544.5" r="0.51" fill="#9088b8"/><circle cx="389.3" cy="553.6" r="0.34" fill="#6a5a88"/><circle cx="379.0" cy="553.4" r="0.40" fill="#6a5a88"/><circle cx="380.8" cy="539.7" r="0.38" fill="#7a7ab0"/><circle cx="383.2" cy="541.1" r="0.52" fill="#5a5a98"/><circle cx="367.7" cy="545.8" r="0.26" fill="#a8a4cc"/><circle cx="369.7" cy="552.4" r="0.29" fill="#9088b8"/><circle cx="365.7" cy="549.1" r="0.42" fill="#6a5a88"/><circle cx="370.9" cy="549.3" r="0.34" fill="#a8a4cc"/><circle cx="378.2" cy="540.4" r="0.37" fill="#6a5a88"/><circle cx="375.7" cy="555.2" r="0.37" fill="#6a5a88"/><circle cx="376.6" cy="546.2" r="0.40" fill="#8a7a90"/><circle cx="370.0" cy="546.2" r="0.35" fill="#8a7a90"/><circle cx="369.7" cy="551.5" r="0.32" fill="#6a5a88"/><circle cx="376.7" cy="550.8" r="0.32" fill="#9088b8"/><circle cx="381.3" cy="544.2" r="0.26" fill="#8a7a90"/><circle cx="370.0" cy="554.0" r="0.31" fill="#9088b8"/><circle cx="377.2" cy="550.4" r="0.33" fill="#9088b8"/><circle cx="386.0" cy="553.2" r="0.44" fill="#6a5a88"/><circle cx="390.1" cy="553.4" r="0.37" fill="#a8a4cc"/><circle cx="366.1" cy="551.5" r="0.50" fill="#7a7ab0"/><circle cx="385.4" cy="552.9" r="0.48" fill="#8a7a90"/><circle cx="388.6" cy="546.9" r="0.27" fill="#5a5a98"/><circle cx="387.5" cy="540.7" r="0.32" fill="#7a7ab0"/><circle cx="379.9" cy="552.1" r="0.54" fill="#7a7ab0"/><circle cx="390.1" cy="545.3" r="0.44" fill="#8a7a90"/><circle cx="389.6" cy="552.7" r="0.25" fill="#6a5a88"/><circle cx="380.5" cy="557.6" r="0.44" fill="#9088b8"/><circle cx="389.8" cy="546.5" r="0.41" fill="#8a7a90"/><circle cx="377.5" cy="545.2" r="0.27" fill="#5a5a98"/><circle cx="384.7" cy="546.8" r="0.33" fill="#5a5a98"/><circle cx="389.3" cy="548.4" r="0.55" fill="#9088b8"/><circle cx="389.9" cy="546.3" r="0.52" fill="#8a7a90"/><circle cx="368.8" cy="547.1" r="0.26" fill="#8a7a90"/><circle cx="376.8" cy="543.1" r="0.26" fill="#8a7a90"/><circle cx="387.4" cy="543.1" r="0.27" fill="#6a5a88"/><circle cx="372.3" cy="540.1" r="0.32" fill="#7a7ab0"/><circle cx="375.0" cy="540.5" r="0.36" fill="#8a7a90"/><circle cx="383.0" cy="556.6" r="0.47" fill="#5a5a98"/><circle cx="388.0" cy="551.1" r="0.31" fill="#6a5a88"/><circle cx="379.8" cy="552.9" r="0.48" fill="#9088b8"/><circle cx="387.6" cy="553.2" r="0.43" fill="#6a5a88"/><circle cx="365.7" cy="549.2" r="0.27" fill="#5a5a98"/><circle cx="384.3" cy="553.2" r="0.31" fill="#5a5a98"/><circle cx="381.0" cy="550.0" r="0.27" fill="#8a7a90"/><circle cx="367.8" cy="550.9" r="0.34" fill="#7a7ab0"/><circle cx="392.5" cy="548.2" r="0.35" fill="#6a5a88"/><circle cx="373.2" cy="542.5" r="0.39" fill="#9088b8"/><circle cx="374.6" cy="543.1" r="0.36" fill="#9088b8"/><circle cx="374.7" cy="549.4" r="0.27" fill="#7a7ab0"/><circle cx="370.9" cy="556.0" r="0.29" fill="#6a5a88"/><circle cx="370.0" cy="554.2" r="0.34" fill="#8a7a90"/><circle cx="389.0" cy="552.6" r="0.31" fill="#5a5a98"/><circle cx="384.4" cy="546.2" r="0.36" fill="#8a7a90"/><circle cx="387.8" cy="549.5" r="0.49" fill="#8a7a90"/><circle cx="381.5" cy="548.8" r="0.27" fill="#7a7ab0"/><circle cx="378.5" cy="556.8" r="0.52" fill="#9088b8"/><circle cx="373.7" cy="552.6" r="0.54" fill="#7a7ab0"/><circle cx="378.1" cy="556.6" r="0.34" fill="#9088b8"/><circle cx="375.5" cy="556.3" r="0.43" fill="#a8a4cc"/><circle cx="382.4" cy="547.5" r="0.50" fill="#7a7ab0"/><circle cx="365.5" cy="549.8" r="0.54" fill="#8a7a90"/><circle cx="382.3" cy="539.2" r="0.49" fill="#6a5a88"/><circle cx="384.4" cy="546.5" r="0.49" fill="#a8a4cc"/><circle cx="375.2" cy="556.0" r="0.30" fill="#6a5a88"/><circle cx="375.3" cy="553.2" r="0.36" fill="#5a5a98"/><circle cx="384.5" cy="550.4" r="0.48" fill="#6a5a88"/><circle cx="369.6" cy="552.6" r="0.39" fill="#5a5a98"/><circle cx="372.6" cy="556.9" r="0.52" fill="#7a7ab0"/><circle cx="378.6" cy="551.1" r="0.28" fill="#8a7a90"/><circle cx="392.8" cy="547.6" r="0.30" fill="#6a5a88"/><circle cx="369.4" cy="552.2" r="0.45" fill="#a8a4cc"/><circle cx="367.0" cy="546.2" r="0.48" fill="#9088b8"/><circle cx="376.1" cy="555.4" r="0.36" fill="#a8a4cc"/><circle cx="378.4" cy="554.8" r="0.31" fill="#6a5a88"/><circle cx="386.5" cy="555.9" r="0.42" fill="#9088b8"/><circle cx="385.4" cy="550.2" r="0.32" fill="#5a5a98"/><circle cx="380.5" cy="557.1" r="0.45" fill="#7a7ab0"/><circle cx="386.7" cy="552.3" r="0.50" fill="#8a7a90"/><circle cx="381.4" cy="547.3" r="0.34" fill="#7a7ab0"/><circle cx="389.3" cy="550.7" r="0.50" fill="#6a5a88"/><circle cx="386.7" cy="545.8" r="0.51" fill="#8a7a90"/><circle cx="369.2" cy="543.1" r="0.45" fill="#7a7ab0"/><circle cx="387.5" cy="553.0" r="0.44" fill="#6a5a88"/><circle cx="386.9" cy="549.6" r="0.26" fill="#9088b8"/><circle cx="390.6" cy="550.3" r="0.52" fill="#7a7ab0"/><circle cx="382.8" cy="542.6" r="0.36" fill="#5a5a98"/><circle cx="376.6" cy="552.4" r="0.49" fill="#5a5a98"/><circle cx="370.1" cy="548.9" r="0.49" fill="#a8a4cc"/><circle cx="368.4" cy="545.9" r="0.28" fill="#6a5a88"/><circle cx="373.2" cy="551.4" r="0.55" fill="#a8a4cc"/><circle cx="374.2" cy="557.2" r="0.34" fill="#5a5a98"/><circle cx="385.7" cy="544.1" r="0.26" fill="#9088b8"/><circle cx="373.6" cy="543.5" r="0.37" fill="#7a7ab0"/><circle cx="373.9" cy="549.9" r="0.28" fill="#7a7ab0"/><circle cx="368.1" cy="553.4" r="0.39" fill="#6a5a88"/><circle cx="381.2" cy="549.9" r="0.29" fill="#8a7a90"/><circle cx="388.4" cy="552.4" r="0.36" fill="#5a5a98"/><circle cx="382.9" cy="553.4" r="0.30" fill="#6a5a88"/><circle cx="383.1" cy="546.8" r="0.40" fill="#6a5a88"/><circle cx="374.9" cy="556.8" r="0.26" fill="#8a7a90"/><circle cx="374.7" cy="555.3" r="0.44" fill="#7a7ab0"/><circle cx="388.1" cy="543.9" r="0.50" fill="#6a5a88"/><circle cx="370.8" cy="541.3" r="0.44" fill="#5a5a98"/><circle cx="386.3" cy="541.0" r="0.30" fill="#6a5a88"/><circle cx="392.1" cy="550.8" r="0.30" fill="#9088b8"/><circle cx="384.0" cy="551.7" r="0.47" fill="#6a5a88"/><circle cx="389.2" cy="550.2" r="0.48" fill="#7a7ab0"/><circle cx="375.1" cy="543.4" r="0.37" fill="#8a7a90"/><circle cx="368.5" cy="545.9" r="0.34" fill="#8a7a90"/><circle cx="376.5" cy="552.9" r="0.37" fill="#9088b8"/><circle cx="370.2" cy="550.4" r="0.26" fill="#5a5a98"/><circle cx="388.5" cy="547.7" r="0.38" fill="#5a5a98"/><circle cx="380.8" cy="541.8" r="0.30" fill="#8a7a90"/><circle cx="376.1" cy="549.8" r="0.36" fill="#9088b8"/><circle cx="386.8" cy="551.8" r="0.40" fill="#7a7ab0"/><circle cx="383.9" cy="549.2" r="0.53" fill="#9088b8"/><circle cx="380.7" cy="541.4" r="0.27" fill="#5a5a98"/><circle cx="387.9" cy="543.4" r="0.49" fill="#7a7ab0"/><circle cx="387.7" cy="540.7" r="0.47" fill="#7a7ab0"/><circle cx="383.8" cy="557.4" r="0.40" fill="#6a5a88"/><circle cx="374.4" cy="540.6" r="0.32" fill="#9088b8"/><circle cx="373.6" cy="545.2" r="0.35" fill="#5a5a98"/><circle cx="377.0" cy="557.0" r="0.29" fill="#5a5a98"/><circle cx="388.5" cy="546.8" r="0.43" fill="#5a5a98"/><circle cx="371.1" cy="548.1" r="0.26" fill="#6a5a88"/><circle cx="369.8" cy="552.8" r="0.33" fill="#9088b8"/><circle cx="383.6" cy="545.8" r="0.49" fill="#7a7ab0"/><circle cx="379.4" cy="546.2" r="0.51" fill="#8a7a90"/><circle cx="369.0" cy="545.8" r="0.51" fill="#7a7ab0"/><circle cx="378.9" cy="555.5" r="0.51" fill="#a8a4cc"/><circle cx="381.1" cy="543.5" r="0.55" fill="#5a5a98"/><circle cx="383.9" cy="552.8" r="0.27" fill="#6a5a88"/><circle cx="384.4" cy="555.9" r="0.26" fill="#5a5a98"/><circle cx="378.7" cy="556.1" r="0.55" fill="#5a5a98"/><circle cx="390.9" cy="544.3" r="0.47" fill="#a8a4cc"/><circle cx="384.3" cy="549.1" r="0.43" fill="#8a7a90"/><circle cx="371.7" cy="551.2" r="0.26" fill="#8a7a90"/><circle cx="380.6" cy="556.1" r="0.26" fill="#7a7ab0"/><circle cx="372.0" cy="546.1" r="0.41" fill="#5a5a98"/><circle cx="380.7" cy="555.7" r="0.43" fill="#6a5a88"/><circle cx="370.5" cy="554.9" r="0.30" fill="#7a7ab0"/><circle cx="385.4" cy="546.4" r="0.29" fill="#7a7ab0"/><circle cx="383.9" cy="549.8" r="0.45" fill="#9088b8"/><circle cx="373.1" cy="551.2" r="0.25" fill="#a8a4cc"/><circle cx="384.7" cy="539.9" r="0.43" fill="#5a5a98"/><circle cx="366.3" cy="551.6" r="0.47" fill="#6a5a88"/><circle cx="379.1" cy="548.5" r="0.27" fill="#7a7ab0"/><circle cx="373.3" cy="551.0" r="0.27" fill="#7a7ab0"/><circle cx="389.4" cy="548.9" r="0.53" fill="#6a5a88"/><circle cx="370.4" cy="552.0" r="0.44" fill="#a8a4cc"/><circle cx="371.0" cy="541.4" r="0.30" fill="#9088b8"/><circle cx="389.2" cy="551.3" r="0.55" fill="#a8a4cc"/><circle cx="381.4" cy="540.2" r="0.25" fill="#8a7a90"/><circle cx="378.7" cy="541.6" r="0.47" fill="#8a7a90"/><circle cx="385.3" cy="557.0" r="0.33" fill="#a8a4cc"/><circle cx="386.9" cy="549.7" r="0.47" fill="#a8a4cc"/><circle cx="385.7" cy="546.5" r="0.27" fill="#a8a4cc"/><circle cx="370.3" cy="546.2" r="0.49" fill="#5a5a98"/><circle cx="386.5" cy="547.4" r="0.53" fill="#6a5a88"/><circle cx="387.6" cy="551.9" r="0.30" fill="#6a5a88"/><circle cx="382.4" cy="544.6" r="0.30" fill="#9088b8"/><circle cx="382.1" cy="554.0" r="0.43" fill="#8a7a90"/><circle cx="388.3" cy="544.0" r="0.46" fill="#a8a4cc"/><circle cx="384.6" cy="542.3" r="0.39" fill="#5a5a98"/><circle cx="374.8" cy="539.7" r="0.38" fill="#a8a4cc"/><ellipse cx="378.6" cy="548.3" rx="10.5" ry="7.6" fill="#a49ec4" opacity="0.38" filter="url(#cb2)"/>
<ellipse cx="378.40" cy="548.30" rx="7.80" ry="5.80" fill="#644644" filter="url(#cb2)" transform="rotate(0 378.40 548.30)"/>
<ellipse cx="378.40" cy="548.30" rx="7.80" ry="5.80" fill="#000" filter="url(#tx)" opacity="0.5" transform="rotate(0 378.40 548.30)"/>
<ellipse cx="378.40" cy="548.30" rx="7.20" ry="5.20" fill="#000" filter="url(#txw)" opacity="0.4" transform="rotate(0 378.40 548.30)"/>
<circle cx="379.0" cy="552.6" r="0.53" fill="#2a1c22"/><circle cx="377.2" cy="547.4" r="0.57" fill="#4a2c30"/><circle cx="380.4" cy="548.6" r="0.47" fill="#4a2c30"/><circle cx="377.1" cy="549.7" r="0.26" fill="#3a2228"/><circle cx="381.6" cy="551.1" r="0.26" fill="#3a2228"/><circle cx="378.3" cy="547.1" r="0.46" fill="#6a4a50"/><circle cx="380.3" cy="552.6" r="0.44" fill="#3a2228"/><circle cx="382.3" cy="545.6" r="0.50" fill="#2a1c22"/><circle cx="380.6" cy="549.6" r="0.29" fill="#3a2228"/><circle cx="384.0" cy="546.9" r="0.51" fill="#3a2228"/><circle cx="380.6" cy="545.0" r="0.35" fill="#3a2228"/><circle cx="382.1" cy="551.3" r="0.48" fill="#6a4a50"/><circle cx="376.7" cy="551.0" r="0.26" fill="#6a4a50"/><circle cx="379.6" cy="547.9" r="0.52" fill="#6a4a50"/><circle cx="379.0" cy="544.8" r="0.42" fill="#6a4a50"/><circle cx="377.6" cy="547.8" r="0.39" fill="#2a1c22"/><circle cx="376.5" cy="548.1" r="0.41" fill="#3a2228"/><circle cx="375.6" cy="547.8" r="0.55" fill="#3a2228"/><circle cx="375.4" cy="547.2" r="0.40" fill="#4a2c30"/><circle cx="377.1" cy="552.2" r="0.27" fill="#6a4a50"/><circle cx="374.1" cy="548.5" r="0.53" fill="#4a2c30"/><circle cx="383.1" cy="547.6" r="0.59" fill="#6a4a50"/><circle cx="376.2" cy="547.4" r="0.54" fill="#4a2c30"/><circle cx="376.3" cy="548.3" r="0.47" fill="#3a2228"/><circle cx="372.2" cy="548.6" r="0.45" fill="#3a2228"/><circle cx="375.8" cy="546.3" r="0.39" fill="#2a1c22"/><circle cx="382.6" cy="545.8" r="0.40" fill="#3a2228"/><circle cx="376.0" cy="550.1" r="0.40" fill="#4a2c30"/><circle cx="374.2" cy="551.3" r="0.33" fill="#2a1c22"/><circle cx="381.7" cy="550.8" r="0.49" fill="#3a2228"/><circle cx="376.3" cy="550.4" r="0.30" fill="#2a1c22"/><circle cx="375.6" cy="544.9" r="0.31" fill="#2a1c22"/><circle cx="377.2" cy="546.1" r="0.33" fill="#6a4a50"/><circle cx="372.7" cy="549.3" r="0.33" fill="#4a2c30"/><circle cx="377.8" cy="552.3" r="0.54" fill="#4a2c30"/><circle cx="377.4" cy="543.8" r="0.50" fill="#6a4a50"/><circle cx="380.3" cy="550.5" r="0.32" fill="#3a2228"/><circle cx="381.0" cy="551.5" r="0.32" fill="#4a2c30"/><circle cx="383.9" cy="547.9" r="0.51" fill="#2a1c22"/><circle cx="378.1" cy="549.8" r="0.57" fill="#6a4a50"/><circle cx="379.4" cy="551.1" r="0.26" fill="#2a1c22"/><circle cx="380.9" cy="545.9" r="0.33" fill="#6a4a50"/><circle cx="376.1" cy="548.7" r="0.46" fill="#2a1c22"/><circle cx="381.4" cy="548.4" r="0.55" fill="#2a1c22"/><circle cx="381.3" cy="545.2" r="0.48" fill="#4a2c30"/><circle cx="376.3" cy="545.0" r="0.41" fill="#6a4a50"/><circle cx="378.1" cy="552.1" r="0.56" fill="#4a2c30"/><circle cx="379.5" cy="544.5" r="0.47" fill="#6a4a50"/><circle cx="380.9" cy="545.7" r="0.26" fill="#2a1c22"/><circle cx="373.4" cy="547.9" r="0.56" fill="#6a4a50"/><circle cx="379.1" cy="545.5" r="0.42" fill="#3a2228"/><circle cx="382.8" cy="549.1" r="0.31" fill="#4a2c30"/><circle cx="376.4" cy="548.1" r="0.45" fill="#4a2c30"/><circle cx="377.5" cy="545.1" r="0.47" fill="#6a4a50"/><circle cx="374.5" cy="547.9" r="0.58" fill="#4a2c30"/>
</g>
<rect x="365.80" y="538.60" width="28.10" height="19.70" fill="none" stroke="#0a0a0a" stroke-width="1.4"/>
<rect x="270.90" y="575.40" width="28.30" height="20.60" fill="url(#g28)"/>
<g clip-path="url(#c29)">
<ellipse cx="284.40" cy="585.30" rx="8.50" ry="6.40" fill="#221e1a" filter="url(#cb)" transform="rotate(-12 284.40 585.30)"/>
<ellipse cx="284.40" cy="585.30" rx="7.60" ry="5.50" fill="#3a332e" filter="url(#cb)" transform="rotate(-12 284.40 585.30)"/>
<ellipse cx="284.40" cy="585.30" rx="8.20" ry="6.10" fill="#000" filter="url(#tx)" opacity="0.6" transform="rotate(-12 284.40 585.30)"/>
<ellipse cx="284.40" cy="585.30" rx="7.60" ry="5.50" fill="#000" filter="url(#txw)" opacity="0.35" transform="rotate(-12 284.40 585.30)"/>

</g>
<rect x="270.90" y="575.40" width="28.30" height="20.60" fill="none" stroke="#0a0a0a" stroke-width="1.6"/>
<rect x="302.80" y="575.40" width="28.10" height="20.20" fill="url(#g30)"/>
<g clip-path="url(#c31)">
<ellipse cx="316.60" cy="585.80" rx="7.50" ry="5.90" fill="#1a1a12" filter="url(#cb)" transform="rotate(0 316.60 585.80)"/>
<ellipse cx="316.60" cy="585.80" rx="6.40" ry="4.80" fill="#44442f" filter="url(#cb)" transform="rotate(0 316.60 585.80)"/>
<ellipse cx="316.60" cy="585.80" rx="2.20" ry="1.80" fill="#1c1c12" filter="url(#cb2)" transform="rotate(0 316.60 585.80)"/>
<ellipse cx="316.60" cy="585.80" rx="7.20" ry="5.60" fill="#000" filter="url(#tx)" opacity="0.55" transform="rotate(0 316.60 585.80)"/>
<ellipse cx="316.60" cy="585.80" rx="6.60" ry="5.00" fill="#000" filter="url(#txw)" opacity="0.3" transform="rotate(0 316.60 585.80)"/>

</g>
<rect x="302.80" y="575.40" width="28.10" height="20.20" fill="none" stroke="#0a0a0a" stroke-width="1.6"/>
<rect x="334.00" y="575.40" width="28.50" height="20.00" fill="url(#g32)"/>
<g clip-path="url(#c33)">
<ellipse cx="348.70" cy="585.30" rx="7.60" ry="6.60" fill="#1a1a10" filter="url(#cb)" transform="rotate(0 348.70 585.30)"/>
<ellipse cx="348.70" cy="585.30" rx="6.50" ry="5.50" fill="#484832" filter="url(#cb)" transform="rotate(0 348.70 585.30)"/>
<ellipse cx="348.70" cy="585.30" rx="2.40" ry="2.00" fill="#1a1a10" filter="url(#cb2)" transform="rotate(0 348.70 585.30)"/>
<ellipse cx="348.70" cy="585.30" rx="7.30" ry="6.30" fill="#000" filter="url(#tx)" opacity="0.55" transform="rotate(0 348.70 585.30)"/>
<ellipse cx="348.70" cy="585.30" rx="6.70" ry="5.70" fill="#000" filter="url(#txw)" opacity="0.3" transform="rotate(0 348.70 585.30)"/>

</g>
<rect x="334.00" y="575.40" width="28.50" height="20.00" fill="none" stroke="#0a0a0a" stroke-width="1.6"/>
<rect x="366.80" y="575.40" width="27.80" height="20.40" fill="url(#g34)"/>
<g clip-path="url(#c35)">
<ellipse cx="379.40" cy="585.70" rx="9.70" ry="7.60" fill="#1a1c14" filter="url(#cb)" transform="rotate(12 379.40 585.70)"/>
<ellipse cx="379.40" cy="585.70" rx="8.50" ry="6.40" fill="#505034" filter="url(#cb)" transform="rotate(12 379.40 585.70)"/>
<ellipse cx="379.40" cy="585.70" rx="3.20" ry="2.40" fill="#1e1e12" filter="url(#cb2)" transform="rotate(12 379.40 585.70)"/>
<ellipse cx="379.40" cy="585.70" rx="9.40" ry="7.30" fill="#000" filter="url(#tx)" opacity="0.5" transform="rotate(12 379.40 585.70)"/>
<ellipse cx="379.40" cy="585.70" rx="8.80" ry="6.70" fill="#000" filter="url(#txw)" opacity="0.3" transform="rotate(12 379.40 585.70)"/>

</g>
<rect x="366.80" y="575.40" width="27.80" height="20.40" fill="none" stroke="#0a0a0a" stroke-width="1.6"/>
<rect x="271.10" y="598.10" width="28.40" height="20.20" fill="#dcd8f0"/>
<g clip-path="url(#c36)">
<ellipse cx="284.80" cy="607.00" rx="9.10" ry="6.50" fill="#1a1010" filter="url(#cb)" transform="rotate(14 284.80 607.00)"/>
<ellipse cx="284.80" cy="607.00" rx="8.30" ry="5.70" fill="#2c1a18" filter="url(#cb)" transform="rotate(14 284.80 607.00)"/>
<ellipse cx="283.80" cy="605.50" rx="3.50" ry="1.60" fill="#6a3a30" filter="url(#cb2)" transform="rotate(14 284.80 607.00)"/>
<ellipse cx="284.80" cy="607.00" rx="8.80" ry="6.20" fill="#000" filter="url(#tx)" opacity="0.4" transform="rotate(14 284.80 607.00)"/>
<path d="M290.5 602.5 L293.6 606.5 L291.0 607.0Z" fill="#8a80b8" opacity="0.8"/>
</g>
<rect x="271.10" y="598.10" width="28.40" height="20.20" fill="none" stroke="#0a0a0a" stroke-width="1.6"/>
<rect x="303.30" y="598.10" width="28.10" height="20.20" fill="url(#g37)"/>
<g clip-path="url(#c38)">
<ellipse cx="317.20" cy="607.50" rx="10.70" ry="6.50" fill="#26261a" filter="url(#cb)" transform="rotate(10 317.20 607.50)"/>
<ellipse cx="317.20" cy="607.50" rx="9.80" ry="5.60" fill="#44442e" filter="url(#cb)" transform="rotate(10 317.20 607.50)"/>
<ellipse cx="317.20" cy="607.50" rx="10.40" ry="6.20" fill="#000" filter="url(#tx)" opacity="0.55" transform="rotate(10 317.20 607.50)"/>
<ellipse cx="317.20" cy="607.50" rx="9.80" ry="5.60" fill="#000" filter="url(#txw)" opacity="0.75" transform="rotate(10 317.20 607.50)"/>

</g>
<rect x="303.30" y="598.10" width="28.10" height="20.20" fill="none" stroke="#0a0a0a" stroke-width="1.6"/>
<rect x="334.60" y="598.10" width="27.90" height="20.40" fill="url(#g39)"/>
<g clip-path="url(#c40)">
<ellipse cx="348.10" cy="608.30" rx="9.20" ry="5.40" fill="#222218" filter="url(#cb)" transform="rotate(4 348.10 608.30)"/>
<ellipse cx="348.10" cy="608.30" rx="8.30" ry="4.50" fill="#46462e" filter="url(#cb)" transform="rotate(4 348.10 608.30)"/>
<ellipse cx="348.10" cy="608.30" rx="8.90" ry="5.10" fill="#000" filter="url(#tx)" opacity="0.55" transform="rotate(4 348.10 608.30)"/>
<ellipse cx="348.10" cy="608.30" rx="8.30" ry="4.50" fill="#000" filter="url(#txw)" opacity="0.55" transform="rotate(4 348.10 608.30)"/>

</g>
<rect x="334.60" y="598.10" width="27.90" height="20.40" fill="none" stroke="#0a0a0a" stroke-width="1.6"/>
<rect x="366.80" y="598.40" width="27.80" height="20.10" fill="#e9e5f5"/>
<g clip-path="url(#c41)">
<ellipse cx="380.50" cy="606.50" rx="8.00" ry="3.90" fill="#2a2228" filter="url(#cb)" transform="rotate(-18 380.50 606.50)"/>
<ellipse cx="380.50" cy="606.50" rx="8.00" ry="3.90" fill="#000" filter="url(#tx)" opacity="0.5" transform="rotate(-18 380.50 606.50)"/>
<circle cx="384.1" cy="606.4" r="0.58" fill="#2a2228"/><circle cx="379.6" cy="603.4" r="0.66" fill="#3a3038"/><circle cx="379.7" cy="609.0" r="0.26" fill="#3a3038"/><circle cx="386.3" cy="604.9" r="0.69" fill="#3a3038"/><circle cx="384.1" cy="607.9" r="0.51" fill="#2a2228"/><circle cx="388.8" cy="606.4" r="0.55" fill="#2a2228"/><circle cx="385.7" cy="609.1" r="0.78" fill="#2a2228"/><circle cx="374.2" cy="607.1" r="0.40" fill="#2a2228"/><circle cx="376.4" cy="609.0" r="0.78" fill="#3a3038"/><circle cx="376.0" cy="606.9" r="0.61" fill="#2a2228"/><circle cx="381.6" cy="603.8" r="0.76" fill="#2a2228"/><circle cx="379.9" cy="608.9" r="0.41" fill="#3a3038"/><circle cx="377.9" cy="604.0" r="0.77" fill="#3a3038"/><circle cx="376.2" cy="609.0" r="0.46" fill="#3a3038"/><circle cx="374.4" cy="607.9" r="0.68" fill="#3a3038"/><circle cx="383.2" cy="608.3" r="0.50" fill="#2a2228"/><circle cx="384.3" cy="603.1" r="0.76" fill="#2a2228"/><circle cx="375.6" cy="606.1" r="0.63" fill="#2a2228"/><circle cx="381.1" cy="607.5" r="0.44" fill="#2a2228"/><circle cx="373.6" cy="604.7" r="0.37" fill="#3a3038"/><circle cx="378.6" cy="607.8" r="0.84" fill="#2a2228"/><circle cx="375.1" cy="604.4" r="0.89" fill="#2a2228"/><circle cx="376.6" cy="603.2" r="0.76" fill="#3a3038"/><circle cx="382.8" cy="609.6" r="0.60" fill="#3a3038"/><circle cx="379.1" cy="605.3" r="0.33" fill="#3a3038"/><circle cx="380.8" cy="608.0" r="0.57" fill="#2a2228"/><circle cx="372.5" cy="606.9" r="0.71" fill="#2a2228"/><circle cx="374.3" cy="606.5" r="0.81" fill="#2a2228"/><circle cx="383.1" cy="608.4" r="0.70" fill="#3a3038"/><circle cx="376.5" cy="603.3" r="0.49" fill="#3a3038"/>
</g>
<rect x="366.80" y="598.40" width="27.80" height="20.10" fill="none" stroke="#0a0a0a" stroke-width="1.6"/>
<rect x="270.60" y="639.10" width="28.60" height="20.00" fill="#fcfafc"/>
<g clip-path="url(#c42)">
<ellipse cx="285.00" cy="650.40" rx="9.30" ry="7.60" fill="#4e2c2c" filter="url(#cb)" transform="rotate(0 285.00 650.40)"/>
<ellipse cx="285.00" cy="650.40" rx="8.40" ry="6.70" fill="#2c181c" filter="url(#cb)" transform="rotate(0 285.00 650.40)"/>
<ellipse cx="282.00" cy="647.90" rx="3.50" ry="2.60" fill="#4a2c38" filter="url(#cb2)" transform="rotate(0 285.00 650.40)"/>
<circle cx="296.3" cy="648.6" r="0.7" fill="#8a5a6a"/>
</g>
<rect x="270.60" y="639.10" width="28.60" height="20.00" fill="none" stroke="#0a0a0a" stroke-width="1.6"/>
<rect x="302.60" y="639.10" width="28.00" height="20.00" fill="#fcfafc"/>
<g clip-path="url(#c43)">
<ellipse cx="315.50" cy="648.30" rx="9.80" ry="7.30" fill="#56302a" filter="url(#cb)" transform="rotate(0 315.50 648.30)"/>
<ellipse cx="315.50" cy="648.30" rx="8.90" ry="6.40" fill="#2c161a" filter="url(#cb)" transform="rotate(0 315.50 648.30)"/>
<ellipse cx="315.50" cy="649.80" rx="5.00" ry="2.20" fill="#42262a" filter="url(#cb2)" transform="rotate(0 315.50 648.30)"/>

</g>
<rect x="302.60" y="639.10" width="28.00" height="20.00" fill="none" stroke="#0a0a0a" stroke-width="1.6"/>
<rect x="333.50" y="639.10" width="29.00" height="20.00" fill="#fcfafc"/>
<g clip-path="url(#c44)">
<ellipse cx="346.60" cy="648.10" rx="10.00" ry="7.50" fill="#54302c" filter="url(#cb)" transform="rotate(0 346.60 648.10)"/>
<ellipse cx="346.60" cy="648.10" rx="9.10" ry="6.60" fill="#2e181c" filter="url(#cb)" transform="rotate(0 346.60 648.10)"/>
<ellipse cx="345.60" cy="648.10" rx="5.50" ry="3.00" fill="#48282e" filter="url(#cb2)" transform="rotate(0 346.60 648.10)"/>

</g>
<rect x="333.50" y="639.10" width="29.00" height="20.00" fill="none" stroke="#0a0a0a" stroke-width="1.6"/>
<rect x="365.70" y="638.30" width="28.20" height="20.30" fill="#fbf8fb"/>
<g clip-path="url(#c45)">
<ellipse cx="380.00" cy="648.00" rx="11.40" ry="8.30" fill="#50302e" filter="url(#cb)" transform="rotate(0 380.00 648.00)"/>
<ellipse cx="380.00" cy="648.00" rx="10.40" ry="7.30" fill="#28141a" filter="url(#cb)" transform="rotate(0 380.00 648.00)"/>
<ellipse cx="380.00" cy="650.50" rx="7.00" ry="2.00" fill="#3e2228" filter="url(#cb2)" transform="rotate(0 380.00 648.00)"/>

</g>
<rect x="365.70" y="638.30" width="28.20" height="20.30" fill="none" stroke="#0a0a0a" stroke-width="1.6"/>
<rect x="270.60" y="661.40" width="28.60" height="20.10" fill="#fefefe"/>
<g clip-path="url(#c46)">
<ellipse cx="285.60" cy="671.10" rx="9.50" ry="7.40" fill="#3c1a0c" filter="url(#cb)" transform="rotate(0 285.60 671.10)"/>
<ellipse cx="285.60" cy="671.10" rx="8.30" ry="6.20" fill="#080303" filter="url(#cb)" transform="rotate(0 285.60 671.10)"/>

</g>
<rect x="270.60" y="661.40" width="28.60" height="20.10" fill="none" stroke="#0a0a0a" stroke-width="1.6"/>
<rect x="302.60" y="661.40" width="28.00" height="20.10" fill="#fefefe"/>
<g clip-path="url(#c47)">
<ellipse cx="317.20" cy="670.80" rx="9.60" ry="7.60" fill="#3c1a0c" filter="url(#cb)" transform="rotate(0 317.20 670.80)"/>
<ellipse cx="317.20" cy="670.80" rx="8.40" ry="6.40" fill="#080303" filter="url(#cb)" transform="rotate(0 317.20 670.80)"/>

</g>
<rect x="302.60" y="661.40" width="28.00" height="20.10" fill="none" stroke="#0a0a0a" stroke-width="1.6"/>
<rect x="334.00" y="661.40" width="28.20" height="20.10" fill="#fefefe"/>
<g clip-path="url(#c48)">
<ellipse cx="349.30" cy="671.00" rx="9.70" ry="6.60" fill="#5a2a18" filter="url(#cb)" transform="rotate(6 349.30 671.00)"/>
<ellipse cx="349.30" cy="671.00" rx="8.50" ry="5.40" fill="#120706" filter="url(#cb)" transform="rotate(6 349.30 671.00)"/>
<ellipse cx="349.30" cy="671.00" rx="9.40" ry="6.30" fill="#000" filter="url(#tx)" opacity="0.2" transform="rotate(6 349.30 671.00)"/>
<ellipse cx="357.2" cy="669.2" rx="2.4" ry="2.6" fill="#2a120c" filter="url(#cb)"/><circle cx="341.5" cy="672.0" r="0.30" fill="#b08a70"/><circle cx="338.7" cy="671.2" r="0.40" fill="#b08a70"/><circle cx="339.3" cy="670.3" r="0.37" fill="#8a9ac0"/><circle cx="341.5" cy="673.1" r="0.41" fill="#b08a70"/><circle cx="341.0" cy="674.7" r="0.34" fill="#8a9ac0"/>
</g>
<rect x="334.00" y="661.40" width="28.20" height="20.10" fill="none" stroke="#0a0a0a" stroke-width="1.6"/>
<rect x="366.30" y="661.40" width="27.60" height="20.10" fill="url(#g49)"/>
<g clip-path="url(#c50)">
<ellipse cx="380.80" cy="670.80" rx="8.70" ry="6.90" fill="#5a2418" filter="url(#cb)" transform="rotate(15 380.80 670.80)"/>
<ellipse cx="380.80" cy="670.80" rx="7.50" ry="5.70" fill="#180908" filter="url(#cb)" transform="rotate(15 380.80 670.80)"/>
<circle cx="370.2" cy="670.3" r="0.7" fill="#7a7aa0"/>
</g>
<rect x="366.30" y="661.40" width="27.60" height="20.10" fill="none" stroke="#0a0a0a" stroke-width="1.6"/>
<text x="310.70" y="706.10" font-size="10" text-anchor="middle" fill="#1c1c1c" stroke="#1c1c1c" stroke-width="0.12" textLength="11.90" lengthAdjust="spacingAndGlyphs">(e)</text>
<rect x="216.06" y="776.65" width="9.2" height="190.45" fill="#050505"/>
<rect x="234.16" y="777.05" width="8.399999999999999" height="190.05" fill="#ff8a0c" stroke="#5a3000" stroke-width="0.8"/>
<rect x="251.76" y="777.05" width="8.399999999999999" height="190.05" fill="#e0410b" stroke="#3d1405" stroke-width="0.8"/>
<line x1="284.58" y1="771.51" x2="284.58" y2="772.46" stroke="#333" stroke-width="1.1"/>
<line x1="282.08" y1="771.51" x2="287.08" y2="771.51" stroke="#333" stroke-width="1.1"/>
<rect x="279.98" y="772.46" width="9.2" height="194.64" fill="#050505"/>
<rect x="298.08" y="783.53" width="8.399999999999999" height="183.57" fill="#ff8a0c" stroke="#5a3000" stroke-width="0.8"/>
<line x1="302.28" y1="769.03" x2="302.28" y2="796.27" stroke="#333" stroke-width="1.1"/>
<line x1="299.78" y1="769.03" x2="304.78" y2="769.03" stroke="#333" stroke-width="1.1"/>
<line x1="299.78" y1="796.27" x2="304.78" y2="796.27" stroke="#333" stroke-width="1.1"/>
<rect x="315.68" y="786.57" width="8.399999999999999" height="180.53" fill="#e0410b" stroke="#3d1405" stroke-width="0.8"/>
<line x1="319.88" y1="782.36" x2="319.88" y2="789.98" stroke="#333" stroke-width="1.1"/>
<line x1="317.38" y1="782.36" x2="322.38" y2="782.36" stroke="#333" stroke-width="1.1"/>
<line x1="317.38" y1="789.98" x2="322.38" y2="789.98" stroke="#333" stroke-width="1.1"/>
<line x1="348.50" y1="776.65" x2="348.50" y2="786.17" stroke="#333" stroke-width="1.1"/>
<line x1="346.00" y1="776.65" x2="351.00" y2="776.65" stroke="#333" stroke-width="1.1"/>
<rect x="343.90" y="786.17" width="9.2" height="180.93" fill="#050505"/>
<rect x="362.00" y="767.53" width="8.399999999999999" height="199.57" fill="#ff8a0c" stroke="#5a3000" stroke-width="0.8"/>
<line x1="366.20" y1="765.22" x2="366.20" y2="769.03" stroke="#333" stroke-width="1.1"/>
<line x1="363.70" y1="765.22" x2="368.70" y2="765.22" stroke="#333" stroke-width="1.1"/>
<line x1="363.70" y1="769.03" x2="368.70" y2="769.03" stroke="#333" stroke-width="1.1"/>
<rect x="379.60" y="925.03" width="8.399999999999999" height="42.07" fill="#e0410b" stroke="#3d1405" stroke-width="0.8"/>
<line x1="383.80" y1="918.54" x2="383.80" y2="931.10" stroke="#333" stroke-width="1.1"/>
<line x1="381.30" y1="918.54" x2="386.30" y2="918.54" stroke="#333" stroke-width="1.1"/>
<line x1="381.30" y1="931.10" x2="386.30" y2="931.10" stroke="#333" stroke-width="1.1"/>
<line x1="412.42" y1="834.55" x2="412.42" y2="838.17" stroke="#333" stroke-width="1.1"/>
<line x1="409.92" y1="834.55" x2="414.92" y2="834.55" stroke="#333" stroke-width="1.1"/>
<rect x="407.82" y="838.17" width="9.2" height="128.93" fill="#050505"/>
<rect x="425.92" y="797.62" width="8.399999999999999" height="169.48" fill="#ff8a0c" stroke="#5a3000" stroke-width="0.8"/>
<line x1="430.12" y1="795.89" x2="430.12" y2="798.55" stroke="#333" stroke-width="1.1"/>
<line x1="427.62" y1="795.89" x2="432.62" y2="795.89" stroke="#333" stroke-width="1.1"/>
<line x1="427.62" y1="798.55" x2="432.62" y2="798.55" stroke="#333" stroke-width="1.1"/>
<rect x="443.52" y="949.41" width="8.399999999999999" height="17.69" fill="#e0410b" stroke="#3d1405" stroke-width="0.8"/>
<line x1="447.72" y1="928.44" x2="447.72" y2="969.00" stroke="#333" stroke-width="1.1"/>
<line x1="445.22" y1="928.44" x2="450.22" y2="928.44" stroke="#333" stroke-width="1.1"/>
<line x1="445.22" y1="969.00" x2="450.22" y2="969.00" stroke="#333" stroke-width="1.1"/>
<line x1="206.40" y1="738.10" x2="206.40" y2="967.70" stroke="#3a3a3a" stroke-width="1.2"/>
<line x1="205.80" y1="967.10" x2="462.40" y2="967.10" stroke="#3a3a3a" stroke-width="1.2"/>
<line x1="200.80" y1="967.10" x2="206.40" y2="967.10" stroke="#3a3a3a" stroke-width="1.1"/>
<text x="195.75" y="970.00" font-size="10.5" text-anchor="end" fill="#1c1c1c" stroke="#1c1c1c" stroke-width="0.12" textLength="5.80" lengthAdjust="spacingAndGlyphs">0</text>
<line x1="200.80" y1="929.01" x2="206.40" y2="929.01" stroke="#3a3a3a" stroke-width="1.1"/>
<text x="195.75" y="931.91" font-size="10.5" text-anchor="end" fill="#1c1c1c" stroke="#1c1c1c" stroke-width="0.12" textLength="11.10" lengthAdjust="spacingAndGlyphs">20</text>
<line x1="200.80" y1="890.92" x2="206.40" y2="890.92" stroke="#3a3a3a" stroke-width="1.1"/>
<text x="195.75" y="893.82" font-size="10.5" text-anchor="end" fill="#1c1c1c" stroke="#1c1c1c" stroke-width="0.12" textLength="11.10" lengthAdjust="spacingAndGlyphs">40</text>
<line x1="200.80" y1="852.83" x2="206.40" y2="852.83" stroke="#3a3a3a" stroke-width="1.1"/>
<text x="195.75" y="855.73" font-size="10.5" text-anchor="end" fill="#1c1c1c" stroke="#1c1c1c" stroke-width="0.12" textLength="11.10" lengthAdjust="spacingAndGlyphs">60</text>
<line x1="200.80" y1="814.74" x2="206.40" y2="814.74" stroke="#3a3a3a" stroke-width="1.1"/>
<text x="195.75" y="817.64" font-size="10.5" text-anchor="end" fill="#1c1c1c" stroke="#1c1c1c" stroke-width="0.12" textLength="11.10" lengthAdjust="spacingAndGlyphs">80</text>
<line x1="200.80" y1="776.65" x2="206.40" y2="776.65" stroke="#3a3a3a" stroke-width="1.1"/>
<text x="195.75" y="779.55" font-size="10.5" text-anchor="end" fill="#1c1c1c" stroke="#1c1c1c" stroke-width="0.12" textLength="15.10" lengthAdjust="spacingAndGlyphs">100</text>
<line x1="200.80" y1="738.56" x2="206.40" y2="738.56" stroke="#3a3a3a" stroke-width="1.1"/>
<text x="195.75" y="741.46" font-size="10.5" text-anchor="end" fill="#1c1c1c" stroke="#1c1c1c" stroke-width="0.12" textLength="15.10" lengthAdjust="spacingAndGlyphs">120</text>
<line x1="238.36" y1="967.10" x2="238.36" y2="973.10" stroke="#3a3a3a" stroke-width="1.1"/>
<text x="238.36" y="983.40" font-size="10.5" text-anchor="middle" fill="#1c1c1c" stroke="#1c1c1c" stroke-width="0.12">0</text>
<line x1="302.28" y1="967.10" x2="302.28" y2="973.10" stroke="#3a3a3a" stroke-width="1.1"/>
<text x="302.28" y="983.40" font-size="10.5" text-anchor="middle" fill="#1c1c1c" stroke="#1c1c1c" stroke-width="0.12">1</text>
<line x1="366.20" y1="967.10" x2="366.20" y2="973.10" stroke="#3a3a3a" stroke-width="1.1"/>
<text x="366.20" y="983.40" font-size="10.5" text-anchor="middle" fill="#1c1c1c" stroke="#1c1c1c" stroke-width="0.12">2</text>
<line x1="430.12" y1="967.10" x2="430.12" y2="973.10" stroke="#3a3a3a" stroke-width="1.1"/>
<text x="430.12" y="983.40" font-size="10.5" text-anchor="middle" fill="#1c1c1c" stroke="#1c1c1c" stroke-width="0.12">3</text>
<line x1="462.10" y1="967.10" x2="462.10" y2="973.10" stroke="#3a3a3a" stroke-width="1.1"/>
<text x="333.90" y="997.70" font-size="10.5" text-anchor="middle" fill="#1c1c1c" stroke="#1c1c1c" stroke-width="0.12" textLength="21.70" lengthAdjust="spacingAndGlyphs">Days</text>
<text transform="translate(171.00,852.60) rotate(-90)" font-size="10.5" text-anchor="middle" fill="#1c1c1c" stroke="#1c1c1c" stroke-width="0.12" textLength="70.30" lengthAdjust="spacingAndGlyphs">% Cell Viability</text>
<text x="277.85" y="725.80" font-size="10.5" text-anchor="start" fill="#1c1c1c" stroke="#1c1c1c" stroke-width="0.12" textLength="109.90" lengthAdjust="spacingAndGlyphs">**: P&lt; 0.05  ***: P&lt; 0.001</text>
<path d="M346.50 746.40 V743.00 Q346.50 741.40 348.10 741.40 H381.00 Q382.60 741.40 382.60 743.00 V746.40" fill="none" stroke="#333" stroke-width="1"/>
<text x="364.55" y="740.80" font-size="10" text-anchor="middle" fill="#1c1c1c" stroke="#1c1c1c" stroke-width="0.12">***</text>
<path d="M410.20 782.40 V779.30 Q410.20 777.70 411.80 777.70 H428.50 Q430.10 777.70 430.10 779.30 V782.40" fill="none" stroke="#333" stroke-width="1"/>
<text x="420.15" y="776.80" font-size="10" text-anchor="middle" fill="#1c1c1c" stroke="#1c1c1c" stroke-width="0.12">**</text>
<path d="M425.50 762.00 V756.30 Q425.50 754.70 427.10 754.70 H463.00 Q464.60 754.70 464.60 756.30 V762.00" fill="none" stroke="#333" stroke-width="1"/>
<text x="445.05" y="754.20" font-size="10" text-anchor="middle" fill="#1c1c1c" stroke="#1c1c1c" stroke-width="0.12">***</text>
<rect x="206.5" y="1016.8" width="8.4" height="8.2" fill="#050505"/>
<rect x="206.9" y="1031.2" width="7.6" height="7.6" fill="#ff8a0c" stroke="#5a3000" stroke-width="0.8"/>
<rect x="206.9" y="1044.8" width="7.6" height="7.6" fill="#e0410b" stroke="#3d1405" stroke-width="0.8"/>
<text x="219.05" y="1023.70" font-size="11" text-anchor="start" fill="#1c1c1c" stroke="#1c1c1c" stroke-width="0.12" textLength="30.20" lengthAdjust="spacingAndGlyphs">Vector</text>
<text x="219.05" y="1037.80" font-size="11" text-anchor="start" fill="#1c1c1c" stroke="#1c1c1c" stroke-width="0.12" textLength="82.30" lengthAdjust="spacingAndGlyphs">Myc-BCL XL (C5)</text>
<text x="219.05" y="1051.60" font-size="11" text-anchor="start" fill="#1c1c1c" stroke="#1c1c1c" stroke-width="0.12" textLength="83.60" lengthAdjust="spacingAndGlyphs">HA-MOAP-1 (C1)</text>
<text x="310.50" y="1071.80" font-size="10" text-anchor="middle" fill="#1c1c1c" stroke="#1c1c1c" stroke-width="0.12" textLength="10.20" lengthAdjust="spacingAndGlyphs">(f)</text>
</g>
</svg>
</body></html>
